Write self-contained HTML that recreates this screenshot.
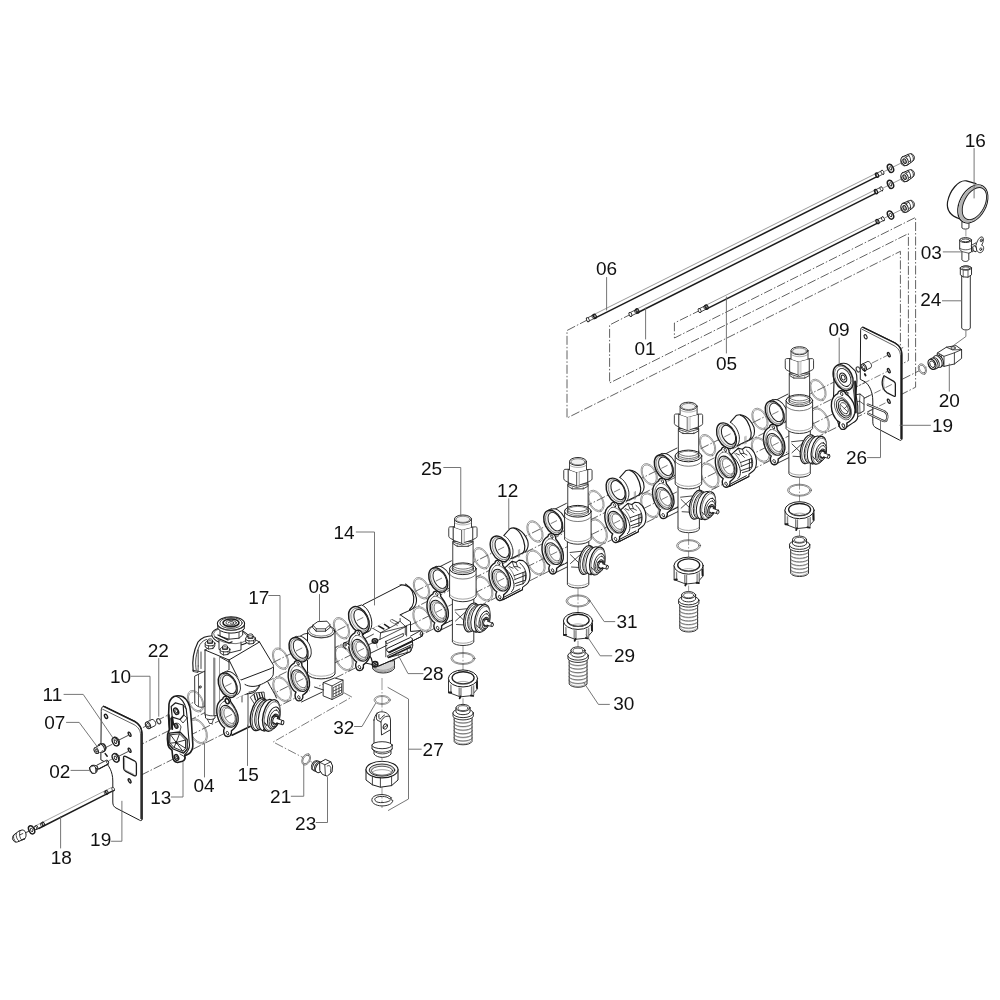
<!DOCTYPE html>
<html><head><meta charset="utf-8"><title>Exploded diagram</title>
<style>html,body{margin:0;padding:0;background:#fff}svg{display:block}text{font-family:"Liberation Sans",sans-serif;fill:#111}</style>
</head><body>
<svg width="1000" height="1000" viewBox="0 0 1000 1000" stroke-linecap="round" stroke-linejoin="round">
<rect width="1000" height="1000" fill="#fff"/>
<path d="M 104 747.05 L 905 346.55" stroke="#3a3a3a" stroke-width="0.8" fill="none" stroke-linecap="butt" stroke-dasharray="9 2 1.5 2"/>
<path d="M 176 742.35 L 946 357.35" stroke="#3a3a3a" stroke-width="0.8" fill="none" stroke-linecap="butt" stroke-dasharray="9 2 1.5 2"/>
<path d="M 97 766.55 L 889 370.55" stroke="#3a3a3a" stroke-width="0.8" fill="none" stroke-linecap="butt" stroke-dasharray="9 2 1.5 2"/>
<path d="M 24 833.65 L 889 401.15" stroke="#3a3a3a" stroke-width="0.8" fill="none" stroke-linecap="butt" stroke-dasharray="9 2 1.5 2"/>
<path d="M 588 319.6 L 567 330.5 L 567 418 L 900.4 251.3 L 900.4 349.5" stroke="#3a3a3a" stroke-width="0.8" fill="none" stroke-linecap="butt" stroke-dasharray="9 2 1.5 2"/>
<path d="M 632 313.6 L 609.6 325 L 609.6 383 L 908.4 233.6 L 908.4 360.6 L 901.8 364" stroke="#3a3a3a" stroke-width="0.8" fill="none" stroke-linecap="butt" stroke-dasharray="9 2 1.5 2"/>
<path d="M 701 309.8 L 674.4 323 L 674.4 338 L 915.6 217.4 L 915.6 387.2 L 901.8 394.2" stroke="#3a3a3a" stroke-width="0.8" fill="none" stroke-linecap="butt" stroke-dasharray="9 2 1.5 2"/>
<path d="M 587.8 317.6 L 882.5 170.25 L 882.5 174.45 L 587.8 321.8 Z" stroke="none" stroke-width="0" fill="#fff" />
<line x1="594.8" y1="314.1" x2="877" y2="173" stroke="#707070" stroke-width="0.7" />
<line x1="595.4" y1="317.8" x2="877" y2="176.7" stroke="#1c1c1c" stroke-width="1.5" />
<path d="M 587.8 317.75 L 594.8 314.25 M 587.8 321.65 L 594.8 318.15" stroke="#1c1c1c" stroke-width="0.8" fill="none" />
<ellipse cx="594.8" cy="316.2" rx="2.25" ry="1.37" stroke="#1c1c1c" stroke-width="1.2" fill="none" transform="rotate(63.44 594.8 316.2)"/>
<ellipse cx="593.5" cy="316.85" rx="2.2" ry="1.34" stroke="#1c1c1c" stroke-width="0.8" fill="none" transform="rotate(63.44 593.5 316.85)"/>
<ellipse cx="587.8" cy="319.7" rx="2.15" ry="1.31" stroke="#1c1c1c" stroke-width="0.9" fill="#fff" transform="rotate(63.44 587.8 319.7)"/>
<path d="M 877 173.1 L 882.5 170.35 L 882.5 174.35 L 877 177.1 Z" stroke="#1c1c1c" stroke-width="0.8" fill="#fff" />
<ellipse cx="882.5" cy="172.35" rx="2.2" ry="1.34" stroke="#1c1c1c" stroke-width="0.8" fill="#fff" transform="rotate(63.44 882.5 172.35)"/>
<ellipse cx="877" cy="175.1" rx="2.3" ry="1.4" stroke="#1c1c1c" stroke-width="1.2" fill="none" transform="rotate(63.44 877 175.1)"/>
<line x1="884.5" y1="171.35" x2="906.5" y2="160.35" stroke="#555" stroke-width="0.6" />
<ellipse cx="890.5" cy="168.35" rx="4.3" ry="2.67" stroke="#1c1c1c" stroke-width="1.5" fill="#fff" transform="rotate(63.44 890.5 168.35)"/>
<ellipse cx="890.5" cy="168.35" rx="1.8" ry="1.12" stroke="#1c1c1c" stroke-width="0.8" fill="#fff" transform="rotate(63.44 890.5 168.35)"/>
<g transform="translate(907.5 159.85)">
<path d="M -5.2 -3 L 2 -6 C 3.6 -6.6 5 -6 5.6 -5 C 6.8 -3.6 7.2 -2.6 6.8 -1.8 C 6.8 -0.6 6.4 0.2 5.6 1 L 0.4 5 L -2.8 6 C -4.6 5.8 -5.6 5 -6 3.8 C -6.6 2.6 -6.8 1.4 -6.6 0.2 C -6.4 -1.2 -6 -2.2 -5.2 -3 Z" stroke="#1c1c1c" stroke-width="1.0" fill="#fff" />
<ellipse cx="-2.8" cy="1.2" rx="4.7" ry="3.3" stroke="#1c1c1c" stroke-width="0.9" fill="#fff" transform="rotate(63.44 -2.8 1.2)"/>
<ellipse cx="-2.9" cy="1.3" rx="2.4" ry="1.5" stroke="#1c1c1c" stroke-width="1.0" fill="#bbb" transform="rotate(63.44 -2.9 1.3)"/>
<path d="M 0.4 -5.2 C 2.4 -3.8 3.6 -0.6 3.2 2.6 M 3.6 -5.8 C 5.6 -4.2 6.4 -1.4 5.6 0.8 M -1.6 -2.9 L 1.6 -4.3 M 1.3 2.2 L 3.2 0.6" stroke="#1c1c1c" stroke-width="0.8" fill="none" />
</g>
<path d="M 630.4 312.3 L 881.5 186.75 L 881.5 190.95 L 630.4 316.5 Z" stroke="none" stroke-width="0" fill="#fff" />
<line x1="637.4" y1="308.8" x2="876" y2="189.5" stroke="#707070" stroke-width="0.7" />
<line x1="638" y1="312.5" x2="876" y2="193.2" stroke="#1c1c1c" stroke-width="1.5" />
<path d="M 630.4 312.45 L 637.4 308.95 M 630.4 316.35 L 637.4 312.85" stroke="#1c1c1c" stroke-width="0.8" fill="none" />
<ellipse cx="637.4" cy="310.9" rx="2.25" ry="1.37" stroke="#1c1c1c" stroke-width="1.2" fill="none" transform="rotate(63.44 637.4 310.9)"/>
<ellipse cx="636.1" cy="311.55" rx="2.2" ry="1.34" stroke="#1c1c1c" stroke-width="0.8" fill="none" transform="rotate(63.44 636.1 311.55)"/>
<ellipse cx="630.4" cy="314.4" rx="2.15" ry="1.31" stroke="#1c1c1c" stroke-width="0.9" fill="#fff" transform="rotate(63.44 630.4 314.4)"/>
<path d="M 876 189.6 L 881.5 186.85 L 881.5 190.85 L 876 193.6 Z" stroke="#1c1c1c" stroke-width="0.8" fill="#fff" />
<ellipse cx="881.5" cy="188.85" rx="2.2" ry="1.34" stroke="#1c1c1c" stroke-width="0.8" fill="#fff" transform="rotate(63.44 881.5 188.85)"/>
<ellipse cx="876" cy="191.6" rx="2.3" ry="1.4" stroke="#1c1c1c" stroke-width="1.2" fill="none" transform="rotate(63.44 876 191.6)"/>
<line x1="883.5" y1="187.85" x2="905.5" y2="176.85" stroke="#555" stroke-width="0.6" />
<ellipse cx="890.5" cy="184.35" rx="4.3" ry="2.67" stroke="#1c1c1c" stroke-width="1.5" fill="#fff" transform="rotate(63.44 890.5 184.35)"/>
<ellipse cx="890.5" cy="184.35" rx="1.8" ry="1.12" stroke="#1c1c1c" stroke-width="0.8" fill="#fff" transform="rotate(63.44 890.5 184.35)"/>
<g transform="translate(907.5 175.85)">
<path d="M -5.2 -3 L 2 -6 C 3.6 -6.6 5 -6 5.6 -5 C 6.8 -3.6 7.2 -2.6 6.8 -1.8 C 6.8 -0.6 6.4 0.2 5.6 1 L 0.4 5 L -2.8 6 C -4.6 5.8 -5.6 5 -6 3.8 C -6.6 2.6 -6.8 1.4 -6.6 0.2 C -6.4 -1.2 -6 -2.2 -5.2 -3 Z" stroke="#1c1c1c" stroke-width="1.0" fill="#fff" />
<ellipse cx="-2.8" cy="1.2" rx="4.7" ry="3.3" stroke="#1c1c1c" stroke-width="0.9" fill="#fff" transform="rotate(63.44 -2.8 1.2)"/>
<ellipse cx="-2.9" cy="1.3" rx="2.4" ry="1.5" stroke="#1c1c1c" stroke-width="1.0" fill="#bbb" transform="rotate(63.44 -2.9 1.3)"/>
<path d="M 0.4 -5.2 C 2.4 -3.8 3.6 -0.6 3.2 2.6 M 3.6 -5.8 C 5.6 -4.2 6.4 -1.4 5.6 0.8 M -1.6 -2.9 L 1.6 -4.3 M 1.3 2.2 L 3.2 0.6" stroke="#1c1c1c" stroke-width="0.8" fill="none" />
</g>
<path d="M 699.6 308.4 L 883 216.7 L 883 220.9 L 699.6 312.6 Z" stroke="none" stroke-width="0" fill="#fff" />
<line x1="706.6" y1="304.9" x2="877.5" y2="219.45" stroke="#707070" stroke-width="0.7" />
<line x1="707.2" y1="308.6" x2="877.5" y2="223.15" stroke="#1c1c1c" stroke-width="1.5" />
<path d="M 699.6 308.55 L 706.6 305.05 M 699.6 312.45 L 706.6 308.95" stroke="#1c1c1c" stroke-width="0.8" fill="none" />
<ellipse cx="706.6" cy="307" rx="2.25" ry="1.37" stroke="#1c1c1c" stroke-width="1.2" fill="none" transform="rotate(63.44 706.6 307)"/>
<ellipse cx="705.3" cy="307.65" rx="2.2" ry="1.34" stroke="#1c1c1c" stroke-width="0.8" fill="none" transform="rotate(63.44 705.3 307.65)"/>
<ellipse cx="699.6" cy="310.5" rx="2.15" ry="1.31" stroke="#1c1c1c" stroke-width="0.9" fill="#fff" transform="rotate(63.44 699.6 310.5)"/>
<path d="M 877.5 219.55 L 883 216.8 L 883 220.8 L 877.5 223.55 Z" stroke="#1c1c1c" stroke-width="0.8" fill="#fff" />
<ellipse cx="883" cy="218.8" rx="2.2" ry="1.34" stroke="#1c1c1c" stroke-width="0.8" fill="#fff" transform="rotate(63.44 883 218.8)"/>
<ellipse cx="877.5" cy="221.55" rx="2.3" ry="1.4" stroke="#1c1c1c" stroke-width="1.2" fill="none" transform="rotate(63.44 877.5 221.55)"/>
<line x1="885" y1="217.8" x2="907" y2="206.8" stroke="#555" stroke-width="0.6" />
<ellipse cx="890.5" cy="215.05" rx="4.3" ry="2.67" stroke="#1c1c1c" stroke-width="1.5" fill="#fff" transform="rotate(63.44 890.5 215.05)"/>
<ellipse cx="890.5" cy="215.05" rx="1.8" ry="1.12" stroke="#1c1c1c" stroke-width="0.8" fill="#fff" transform="rotate(63.44 890.5 215.05)"/>
<g transform="translate(907.5 206.55)">
<path d="M -5.2 -3 L 2 -6 C 3.6 -6.6 5 -6 5.6 -5 C 6.8 -3.6 7.2 -2.6 6.8 -1.8 C 6.8 -0.6 6.4 0.2 5.6 1 L 0.4 5 L -2.8 6 C -4.6 5.8 -5.6 5 -6 3.8 C -6.6 2.6 -6.8 1.4 -6.6 0.2 C -6.4 -1.2 -6 -2.2 -5.2 -3 Z" stroke="#1c1c1c" stroke-width="1.0" fill="#fff" />
<ellipse cx="-2.8" cy="1.2" rx="4.7" ry="3.3" stroke="#1c1c1c" stroke-width="0.9" fill="#fff" transform="rotate(63.44 -2.8 1.2)"/>
<ellipse cx="-2.9" cy="1.3" rx="2.4" ry="1.5" stroke="#1c1c1c" stroke-width="1.0" fill="#bbb" transform="rotate(63.44 -2.9 1.3)"/>
<path d="M 0.4 -5.2 C 2.4 -3.8 3.6 -0.6 3.2 2.6 M 3.6 -5.8 C 5.6 -4.2 6.4 -1.4 5.6 0.8 M -1.6 -2.9 L 1.6 -4.3 M 1.3 2.2 L 3.2 0.6" stroke="#1c1c1c" stroke-width="0.8" fill="none" />
</g>
<path d="M 860.6 330.5 C 860.5 327.6 862 326.6 864 327.6 L 894.6 342.6 C 899.6 345.4 901.8 349.4 901.9 354.4 L 901.9 438.6 C 901.9 440.2 900.8 440.8 899.4 440 L 876 427.8 C 873.6 426.4 872.8 424.8 872.8 421.8 L 872.8 401 C 872.8 392 869.4 385 865 381.8 L 860.6 379.5 Z" stroke="#1c1c1c" stroke-width="1.0" fill="#fff" />
<path d="M 862 329.2 L 894 345.6 C 898.4 348.2 900.4 351.4 900.5 356 L 900.5 438.6" stroke="#1c1c1c" stroke-width="0.7" fill="none" />
<path d="M 863 327.3 L 894.8 342.9 C 899.6 345.6 901.7 349.4 901.7 354.4 L 901.7 438.8" stroke="#1c1c1c" stroke-width="1.5" fill="none" />
<ellipse cx="865.6" cy="336.8" rx="2.2" ry="1.36" stroke="#1c1c1c" stroke-width="1.1" fill="none" transform="rotate(63.44 865.6 336.8)"/>
<ellipse cx="888.8" cy="354.65" rx="2.3" ry="1.03" stroke="#1c1c1c" stroke-width="1.3" fill="none" transform="rotate(63.44 888.8 354.65)"/>
<ellipse cx="888.8" cy="370.65" rx="2.3" ry="1.03" stroke="#1c1c1c" stroke-width="1.3" fill="none" transform="rotate(63.44 888.8 370.65)"/>
<ellipse cx="888.8" cy="401.25" rx="2.3" ry="1.03" stroke="#1c1c1c" stroke-width="1.3" fill="none" transform="rotate(63.44 888.8 401.25)"/>
<path d="M 884 375.76 C 882 379.6 881.76 384.4 883.2 388 C 884 390 885.2 391.6 886.8 392.56 L 894 396.24 C 895.04 396.72 895.36 396.24 895.36 395.2 L 895.36 384 C 895.36 382.64 894.8 382 893.76 381.36 Z" stroke="#1c1c1c" stroke-width="1.3" fill="none" />
<path d="M 884.64 376.4 C 883.2 380.4 883.2 385.2 884.48 388.4" stroke="#6a6a6a" stroke-width="0.6" fill="none" />
<path d="M 872 363.05 L 888 355.05" stroke="#444" stroke-width="0.7" fill="none" stroke-linecap="butt" stroke-dasharray="7 2 1.5 2"/>
<path d="M 852 389.05 L 888 371.05" stroke="#444" stroke-width="0.7" fill="none" stroke-linecap="butt" stroke-dasharray="7 2 1.5 2"/>
<path d="M 868 411.65 L 888 401.65" stroke="#444" stroke-width="0.7" fill="none" stroke-linecap="butt" stroke-dasharray="7 2 1.5 2"/>
<path d="M 852 404.35 L 893 383.85" stroke="#444" stroke-width="0.7" fill="none" stroke-linecap="butt" stroke-dasharray="7 2 1.5 2"/>
<path d="M 867.76 404.64 L 884.64 411.44 C 887.6 413.2 888 418 886.4 420.4 C 885.2 421.6 883.6 421.2 882.4 420.56 L 868.24 413.68" stroke="#1c1c1c" stroke-width="2.2" fill="none" />
<path d="M 867.76 404.64 L 884.64 411.44 C 887.6 413.2 888 418 886.4 420.4 C 885.2 421.6 883.6 421.2 882.4 420.56 L 868.24 413.68" stroke="#fff" stroke-width="0.9" fill="none" />
<path d="M 862.24 364.17 L 867.84 361.37 C 870.6 361.77 872.56 365.43 870.96 367.63 L 865.36 370.43 Z" stroke="#1c1c1c" stroke-width="0.9" fill="#fff" />
<ellipse cx="863.8" cy="367.3" rx="3.5" ry="2.31" stroke="#1c1c1c" stroke-width="1.0" fill="#fff" transform="rotate(63.44 863.8 367.3)"/>
<ellipse cx="863.8" cy="367.3" rx="1.93" ry="1.27" stroke="#1c1c1c" stroke-width="0.8" fill="#fff" transform="rotate(63.44 863.8 367.3)"/>
<path d="M 864.16 370 L 864.8 370.96 M 864.8 374 L 865.6 375.44" stroke="#1c1c1c" stroke-width="1.8" fill="none" />
<ellipse cx="858.2" cy="369.4" rx="2.7" ry="1.78" stroke="#444" stroke-width="1.2" fill="#fff" transform="rotate(63.44 858.2 369.4)"/>
<ellipse cx="922.4" cy="369.1" rx="5.6" ry="3.7" stroke="#444" stroke-width="0.6" fill="#fff" transform="rotate(63.44 922.4 369.1)"/>
<ellipse cx="922.4" cy="369.1" rx="4.2" ry="2.6" stroke="#444" stroke-width="0.6" fill="#fff" transform="rotate(63.44 922.4 369.1)"/>
<path d="M 937.6 352.8 L 946.4 347.2 L 956 345.6 L 961.6 349.6 L 961.6 358.4 L 954.4 364 L 944 366.4 L 937.6 362.4 Z" stroke="#1c1c1c" stroke-width="0.9" fill="#fff" />
<path d="M 937.6 352.8 L 944 356.32 L 944 366.4 M 944 356.32 L 954.4 352.8 L 961.6 349.6 M 954.4 352.8 L 954.4 364 M 946.4 347.2 L 952.48 349.92 L 961.6 349.6" stroke="#1c1c1c" stroke-width="0.8" fill="none" />
<ellipse cx="953.12" cy="348" rx="2.24" ry="1.28" stroke="#1c1c1c" stroke-width="0.8" fill="none"/>
<path d="M 939.68 354.08 L 939.68 363.68 M 941.6 355.2 L 941.6 364.96" stroke="#1c1c1c" stroke-width="0.7" fill="none" />
<path d="M 932 358.4 L 938.4 355.2 L 941.6 367.2 L 935.2 370.4 Z" stroke="none" stroke-width="0.001" fill="#fff" />
<ellipse cx="939.2" cy="360.8" rx="6.08" ry="3.77" stroke="#1c1c1c" stroke-width="1.0" fill="#fff" transform="rotate(63.44 939.2 360.8)"/>
<ellipse cx="937.6" cy="361.6" rx="6.4" ry="3.97" stroke="#1c1c1c" stroke-width="0.9" fill="#fff" transform="rotate(63.44 937.6 361.6)"/>
<ellipse cx="935.52" cy="362.72" rx="5.44" ry="3.37" stroke="#1c1c1c" stroke-width="0.9" fill="#fff" transform="rotate(63.44 935.52 362.72)"/>
<ellipse cx="933.92" cy="363.52" rx="5.76" ry="3.57" stroke="#1c1c1c" stroke-width="1.0" fill="#fff" transform="rotate(63.44 933.92 363.52)"/>
<ellipse cx="932" cy="364.32" rx="5.4" ry="3.46" stroke="#1c1c1c" stroke-width="1.3" fill="#fff" transform="rotate(63.44 932 364.32)"/>
<ellipse cx="932.3" cy="364.22" rx="3.6" ry="2.23" stroke="#1c1c1c" stroke-width="0.8" fill="#fff" transform="rotate(63.44 932.3 364.22)"/>
<path d="M 965.9 331 L 965.9 336.5 L 952.5 346.2" stroke="#444" stroke-width="0.7" fill="none"/>
<path d="M 961.7 272 L 961.7 328 C 962.5 330.6 969.5 330.6 970.3 328 L 970.3 272 Z" stroke="#1c1c1c" stroke-width="0.9" fill="#fff" />
<path d="M 960.32 267.92 L 960.32 274.8 L 963.2 276.88 L 968 277.2 L 971.52 274.8 L 971.52 267.92 C 970.4 265.2 961.6 265.2 960.32 267.92 Z" stroke="#1c1c1c" stroke-width="0.9" fill="#fff" />
<ellipse cx="965.92" cy="268.08" rx="5.6" ry="2.08" stroke="#1c1c1c" stroke-width="0.9" fill="#fff"/>
<ellipse cx="965.92" cy="268.24" rx="3.84" ry="1.28" stroke="#1c1c1c" stroke-width="0.7" fill="none"/>
<path d="M 963.2 270.48 L 963.2 276.88 M 968 270.48 L 968 277.2" stroke="#1c1c1c" stroke-width="0.7" fill="none" />
<path d="M 959.68 240.4 L 959.68 249.2 L 961.92 251.6 L 961.92 259.92 C 964 262 967.2 262 968.8 259.92 L 968.8 253.2 L 971.52 251.92 L 971.52 240.4 Z" stroke="#1c1c1c" stroke-width="0.9" fill="#fff" />
<ellipse cx="965.6" cy="240.08" rx="5.92" ry="2.4" stroke="#1c1c1c" stroke-width="1.0" fill="#fff"/>
<ellipse cx="965.6" cy="240.4" rx="4.16" ry="1.44" stroke="#1c1c1c" stroke-width="0.8" fill="none"/>
<path d="M 961.92 251.6 L 968.8 253.2 M 960 248.4 C 962.4 250.32 968.8 250.32 971.2 248.4" stroke="#1c1c1c" stroke-width="0.7" fill="none" />
<path d="M 971.52 245.2 L 976 242.8 L 977.6 247.6 L 972.8 251.6 Z" stroke="#1c1c1c" stroke-width="0.8" fill="#fff" />
<ellipse cx="974.88" cy="248.72" rx="1.92" ry="3.2" stroke="#1c1c1c" stroke-width="0.9" fill="#fff" transform="rotate(-20 974.88 248.72)"/>
<path d="M 976 245.2 C 977.28 240.4 979.2 236.88 982.08 236.88 C 984 237.52 983.68 242 981.6 245.2 C 984 245.52 984.32 249.2 982.4 251.6 C 980.48 253.52 977.92 252.88 976.8 250.32 Z" stroke="#1c1c1c" stroke-width="0.9" fill="#fff" />
<ellipse cx="981.28" cy="240.4" rx="0.96" ry="1.44" stroke="#1c1c1c" stroke-width="0.8" fill="none" transform="rotate(20 981.28 240.4)"/>
<ellipse cx="980.8" cy="249.2" rx="0.96" ry="1.44" stroke="#1c1c1c" stroke-width="0.8" fill="none" transform="rotate(20 980.8 249.2)"/>
<path d="M 961.92 222 L 961.92 227.92 C 963.52 229.52 967.2 229.52 968.96 227.92 L 968.96 222 Z" stroke="#1c1c1c" stroke-width="0.9" fill="#fff" />
<line x1="965.9" y1="230" x2="965.9" y2="236" stroke="#555" stroke-width="0.6" />
<path d="M 959.2 183.6 C 952 186 946.4 197.2 946.88 206.8 C 947.52 213.2 952 217.2 959.2 219.6 L 972.8 223.6 L 977.6 184.4 Z" stroke="none" stroke-width="0.001" fill="#fff" />
<path d="M 976 183.6 L 966.4 180.88 C 958.4 179.6 949.6 190.8 947.52 202 C 946.4 210 950.4 215.6 959.2 218.8" stroke="#1c1c1c" stroke-width="1.2" fill="none" />
<ellipse cx="972.8" cy="203.92" rx="13.12" ry="20.48" stroke="#1c1c1c" stroke-width="1.2" fill="#fff" transform="rotate(28 972.8 203.92)"/>
<ellipse cx="972.96" cy="203.92" rx="12.64" ry="20" stroke="none" stroke-width="0.001" fill="#b4b4b4" transform="rotate(28 972.96 203.92)"/>
<ellipse cx="974.4" cy="203.6" rx="10.24" ry="17.28" stroke="#1c1c1c" stroke-width="0.9" fill="#fff" transform="rotate(28 974.4 203.6)"/>
<path d="M 855.2 394.8 L 860 394 L 864 397.2 L 864 410.8 L 860 413.2 L 855.2 413.2 Z" stroke="#1c1c1c" stroke-width="0.9" fill="#fff" />
<path d="M 860 394 L 859.6 401.2 L 864 404.4 M 859.6 401.2 L 855.2 402 M 859.6 401.2 L 860 413.2" stroke="#1c1c1c" stroke-width="0.7" fill="none" />
<path d="M 838.56 364.4 C 841.6 362.8 846.4 362.8 848.8 364.8 L 855.2 370.96 C 856.96 374 857.28 377.2 856.96 380.4 L 856 394.8 L 857.76 406 L 857.76 416.4 C 857.6 419.6 856 421.2 853.6 422.4 L 846.8 426.96 L 844 429.36 L 838.8 425.2 L 832.8 406 L 833.6 394.8 L 834 382 L 833.2 374 C 833.6 369.2 835.6 366 838.56 364.4 Z" stroke="#1c1c1c" stroke-width="1.1" fill="#fff" />
<path d="M 855.04 381.36 L 855.84 412.4" stroke="#1c1c1c" stroke-width="1.9" fill="none" />
<path d="M 852.4 382 L 854 394.8 L 855.2 406 M 846.4 391.6 L 853.6 406 M 844 394.8 L 846.4 391.6 L 848.8 393.2" stroke="#1c1c1c" stroke-width="0.8" fill="none" />
<ellipse cx="843.2" cy="377.6" rx="13.6" ry="8.98" stroke="#1c1c1c" stroke-width="1.5" fill="#fff" transform="rotate(63.44 843.2 377.6)"/>
<ellipse cx="843.5" cy="377.6" rx="12.2" ry="7.93" stroke="#555" stroke-width="0.6" fill="none" transform="rotate(63.44 843.5 377.6)"/>
<ellipse cx="844" cy="377.4" rx="9.6" ry="6.14" stroke="#1c1c1c" stroke-width="0.9" fill="#fff" transform="rotate(63.44 844 377.4)"/>
<ellipse cx="843.2" cy="377.6" rx="4.8" ry="3.17" stroke="#1c1c1c" stroke-width="1.2" fill="#fff" transform="rotate(63.44 843.2 377.6)"/>
<ellipse cx="843.2" cy="377.6" rx="2.6" ry="1.72" stroke="#1c1c1c" stroke-width="0.9" fill="#fff" transform="rotate(63.44 843.2 377.6)"/>
<ellipse cx="842" cy="392.4" rx="2" ry="1.32" stroke="#1c1c1c" stroke-width="0.9" fill="#fff" transform="rotate(63.44 842 392.4)"/>
<path d="M 841.6 390.8 C 839.6 390.4 838 391.6 837.76 393.6 C 835.2 394.8 832.4 398 831.6 402 C 830.8 407.6 832 413.2 835.2 418 C 836.4 420 838 421.6 839.84 422.4 C 838.8 424.4 839.2 427.2 840.96 428.8 C 842.8 430 845.2 429.36 846.4 427.44 C 847.2 426 847.2 424.4 846.8 423.2 C 850 421.6 853.6 418 854.8 413.2 C 855.6 408.4 854 403.2 851.2 399.2 C 849.6 396.8 847.6 394.8 845.76 393.84 C 845.44 392 843.6 390.96 841.6 390.8 Z" stroke="#1c1c1c" stroke-width="1.4" fill="#fff" />
<ellipse cx="843" cy="408.4" rx="12.4" ry="7.44" stroke="#444" stroke-width="0.7" fill="none" transform="rotate(63.44 843 408.4)"/>
<ellipse cx="843.5" cy="408.4" rx="10.4" ry="6.24" stroke="#1c1c1c" stroke-width="0.9" fill="#e6e6e6" transform="rotate(63.44 843.5 408.4)"/>
<ellipse cx="844.2" cy="408.2" rx="8.4" ry="5.04" stroke="#1c1c1c" stroke-width="0.9" fill="#fff" transform="rotate(63.44 844.2 408.2)"/>
<ellipse cx="844.2" cy="408.2" rx="6" ry="3.6" stroke="#1c1c1c" stroke-width="0.7" fill="#fff" transform="rotate(63.44 844.2 408.2)"/>
<path d="M 840.96 405.2 L 847.6 411.6 M 844 408.8 L 847.2 406" stroke="#1c1c1c" stroke-width="0.7" fill="none" />
<ellipse cx="841.6" cy="393.84" rx="1.8" ry="1.12" stroke="#1c1c1c" stroke-width="0.8" fill="none" transform="rotate(63.44 841.6 393.84)"/>
<ellipse cx="843.36" cy="425.6" rx="2" ry="1.24" stroke="#1c1c1c" stroke-width="0.9" fill="none" transform="rotate(63.44 843.36 425.6)"/>
<ellipse cx="818" cy="390.05" rx="11.6" ry="7.13" stroke="#5a5a5a" stroke-width="0.55" fill="none" transform="rotate(63.44 818 390.05)"/>
<ellipse cx="818" cy="390.05" rx="10.2" ry="6.12" stroke="#5a5a5a" stroke-width="0.55" fill="none" transform="rotate(63.44 818 390.05)"/>
<ellipse cx="820" cy="420.35" rx="13.6" ry="8.23" stroke="#5a5a5a" stroke-width="0.55" fill="none" transform="rotate(63.44 820 420.35)"/>
<ellipse cx="820" cy="420.35" rx="12.2" ry="7.2" stroke="#5a5a5a" stroke-width="0.55" fill="none" transform="rotate(63.44 820 420.35)"/>
<path d="M 799.5 477.6 L 799.5 538.6" stroke="#555" stroke-width="0.6" fill="none" stroke-linecap="butt" stroke-dasharray="12 2 1.5 2"/>
<path d="M 790.7 547.8 L 790.7 573.3 C 792.7 577.6 806.3 577.6 808.5 573.3 L 808.5 547.8 Z" stroke="#1c1c1c" stroke-width="0.9" fill="#fff" />
<path d="M 790.3 551.8 C 792.7 555.8 806.3 555.8 808.9 551.8" stroke="#333" stroke-width="0.7" fill="none" />
<path d="M 791.1 552.7 C 793.3 556.2 805.7 556.2 808.1 552.7" stroke="#888" stroke-width="0.5" fill="none" />
<path d="M 790.3 555.4 C 792.7 559.4 806.3 559.4 808.9 555.4" stroke="#333" stroke-width="0.7" fill="none" />
<path d="M 791.1 556.3 C 793.3 559.8 805.7 559.8 808.1 556.3" stroke="#888" stroke-width="0.5" fill="none" />
<path d="M 790.3 559 C 792.7 563 806.3 563 808.9 559" stroke="#333" stroke-width="0.7" fill="none" />
<path d="M 791.1 559.9 C 793.3 563.4 805.7 563.4 808.1 559.9" stroke="#888" stroke-width="0.5" fill="none" />
<path d="M 790.3 562.6 C 792.7 566.6 806.3 566.6 808.9 562.6" stroke="#333" stroke-width="0.7" fill="none" />
<path d="M 791.1 563.5 C 793.3 567 805.7 567 808.1 563.5" stroke="#888" stroke-width="0.5" fill="none" />
<path d="M 790.3 566.2 C 792.7 570.2 806.3 570.2 808.9 566.2" stroke="#333" stroke-width="0.7" fill="none" />
<path d="M 791.1 567.1 C 793.3 570.6 805.7 570.6 808.1 567.1" stroke="#888" stroke-width="0.5" fill="none" />
<path d="M 790.3 569.8 C 792.7 573.8 806.3 573.8 808.9 569.8" stroke="#333" stroke-width="0.7" fill="none" />
<path d="M 791.1 570.7 C 793.3 574.2 805.7 574.2 808.1 570.7" stroke="#888" stroke-width="0.5" fill="none" />
<path d="M 791.7 573 C 794.7 576.6 804.3 576.6 807.5 573" stroke="#666" stroke-width="0.6" fill="none" />
<path d="M 789.5 544.8 L 789.5 548.3 C 792.5 552.8 806.5 552.8 809.8 548.3 L 809.8 544.8 Z" stroke="#1c1c1c" stroke-width="0.9" fill="#fff" />
<ellipse cx="799.6" cy="544.8" rx="10.2" ry="4.59" stroke="#1c1c1c" stroke-width="0.9" fill="#fff"/>
<path d="M 792.5 539.6 L 792.5 543.8 C 794.5 547.3 804.5 547.3 806.5 543.8 L 806.5 539.6 Z" stroke="#1c1c1c" stroke-width="0.9" fill="#fff" />
<ellipse cx="799.5" cy="539.6" rx="7" ry="3.5" stroke="#1c1c1c" stroke-width="0.9" fill="#fff"/>
<ellipse cx="799.5" cy="539.9" rx="5" ry="2.5" stroke="#1c1c1c" stroke-width="0.7" fill="#fff"/>
<path d="M 785.02 510.2 L 785.02 524.2 L 796.7 528.6 L 807.9 527.4 L 813.98 520.6 L 813.98 510.2 Z" stroke="#1c1c1c" stroke-width="0.9" fill="#fff" />
<path d="M 787.3 516.6 L 788.5 517.2 L 788.5 524.8 L 787.3 524.28 Z" stroke="none" stroke-width="0.001" fill="#cfcfcf" />
<path d="M 795.58 519.6 L 797.58 519.8 L 797.58 528.4 L 795.58 528.2 Z" stroke="none" stroke-width="0.001" fill="#cfcfcf" />
<path d="M 807.9 518.4 L 810.3 517.4 L 810.3 526.4 L 807.9 527.4 Z" stroke="none" stroke-width="0.001" fill="#cfcfcf" />
<path d="M 787.3 516.6 L 787.3 524.28 M 795.58 519.6 L 795.58 528.2 M 797.58 519.8 L 797.58 528.4 M 807.9 518.4 L 807.9 527.4 M 810.3 517.4 L 810.3 526.4" stroke="#444" stroke-width="0.7" fill="none" />
<path d="M 813.18 513.4 L 813.42 519.8" stroke="#1c1c1c" stroke-width="1.8" fill="none" />
<path d="M 785.5 524.2 L 787.7 524.12 M 796.9 528.2 L 796.22 530 M 807.5 527.32 L 809.7 527.6" stroke="#1c1c1c" stroke-width="1.9" fill="none" />
<ellipse cx="799.5" cy="510.2" rx="14.6" ry="8.5" stroke="#1c1c1c" stroke-width="1.0" fill="#fff"/>
<ellipse cx="799.6" cy="509.6" rx="11" ry="6.1" stroke="#1c1c1c" stroke-width="1.3" fill="#fff"/>
<path d="M 793.1 514.6 C 795.9 512.6 803.1 512.6 805.9 514.6" stroke="#777" stroke-width="0.6" fill="none" />
<path d="M 791.9 513.8 C 795.1 516.6 803.9 516.6 807.5 513.8" stroke="#666" stroke-width="0.6" fill="none" />
<ellipse cx="799.5" cy="490.2" rx="12" ry="6" stroke="#3a3a3a" stroke-width="0.6" fill="none"/>
<ellipse cx="799.5" cy="490.2" rx="10.5" ry="5.04" stroke="#3a3a3a" stroke-width="0.6" fill="none"/>
<path d="M 768.89 401.57 L 787.89 392.07 L 799.51 415.33 L 780.51 424.83 Z" stroke="none" stroke-width="0.001" fill="#fff" />
<path d="M 769.49 401.37 L 773.29 399.47 L 774.29 400.97 L 787.89 394.12" stroke="#1c1c1c" stroke-width="0.9" fill="none" />
<ellipse cx="778.3" cy="411.4" rx="12.6" ry="8.13" stroke="#1c1c1c" stroke-width="0.9" fill="#fff" transform="rotate(63.44 778.3 411.4)"/>
<path d="M 768.89 401.57 L 772.49 399.77 L 784.11 423.03 L 780.51 424.83 Z" stroke="none" stroke-width="0.001" fill="#fff" />
<line x1="768.89" y1="401.57" x2="772.49" y2="399.77" stroke="#1c1c1c" stroke-width="0.9" />
<ellipse cx="774.7" cy="413.2" rx="13" ry="8.38" stroke="#1c1c1c" stroke-width="1.5" fill="#fff" transform="rotate(63.44 774.7 413.2)"/>
<ellipse cx="775.2" cy="413" rx="11.6" ry="7.31" stroke="#555" stroke-width="0.6" fill="#e9e9e9" transform="rotate(63.44 775.2 413)"/>
<ellipse cx="776.4" cy="412.4" rx="9.9" ry="5.94" stroke="#1c1c1c" stroke-width="0.9" fill="#fff" transform="rotate(63.44 776.4 412.4)"/>
<path d="M 772.2 414.45 L 780.2 410.45" stroke="#444" stroke-width="0.7" fill="none" stroke-linecap="butt" stroke-dasharray="7 2 1.5 2"/>
<path d="M 789.25 374 L 789.25 424.5 L 809.6 424.5 L 809.6 374 Z" stroke="none" stroke-width="0.001" fill="#fff" />
<path d="M 789.25 374.5 L 789.25 424.5 M 809.6 374.5 L 809.6 424.5" stroke="#2a2a2a" stroke-width="0.9" fill="none" />
<path d="M 789.35 417.5 C 793.75 420.75 805.25 420.75 809.5 417.5 M 789.35 419.5 C 793.75 422.75 805.25 422.75 809.5 419.5" stroke="#555" stroke-width="0.7" fill="none" />
<path d="M 789.25 373.5 L 789.75 375.6 L 793.75 378.1 L 804.75 378.1 L 809.25 375.6 L 809.6 373.5 Z" stroke="#2a2a2a" stroke-width="0.9" fill="#fff" />
<path d="M 793.75 376.75 L 793.75 378.1 M 804.75 376.75 L 804.75 378.1" stroke="#2a2a2a" stroke-width="0.7" fill="none" />
<path d="M 790 358.5 L 786.5 358.6 C 785.5 358.75 785.25 359.25 785.25 360.25 L 785.25 368 C 785.35 369 786 369.5 786.75 370 L 790 371.75 Z" stroke="#2a2a2a" stroke-width="0.9" fill="#fff" />
<path d="M 809.25 358.75 L 812.25 358.6 C 813.25 358.75 813.55 359.25 813.55 360.25 L 813.55 368.25 C 813.45 369.1 813 369.5 812.25 369.9 L 809.25 371.5 Z" stroke="#2a2a2a" stroke-width="0.9" fill="#fff" />
<path d="M 790 358.75 L 798.25 361.6 L 809.25 358.75 L 809.25 371.6 L 798.25 375.1 L 790 372.1 Z" stroke="#2a2a2a" stroke-width="0.9" fill="#fff" />
<path d="M 798.25 361.6 L 798.25 375.1" stroke="#2a2a2a" stroke-width="1.1" fill="none" />
<path d="M 800.75 361.1 L 800.75 374.4" stroke="#777" stroke-width="0.7" fill="none" />
<path d="M 798.35 361.75 L 800.65 361.15 L 800.65 374.4 L 798.35 375 Z" stroke="none" stroke-width="0.001" fill="#e3e3e3" />
<path d="M 790 372.1 L 789.75 374 L 798.25 376.75 L 809.5 373.75 L 809.25 371.6" stroke="#2a2a2a" stroke-width="0.8" fill="none" />
<path d="M 791 350.75 L 791 359.1 L 798.25 361.6 L 808 359.1 L 808 350.75 Z" stroke="none" stroke-width="0.001" fill="#fff" />
<path d="M 791 351 L 791 358.9 M 808 351 L 808 358.9" stroke="#2a2a2a" stroke-width="0.9" fill="none" />
<path d="M 791.15 354.5 C 794.75 357.5 804.25 357.5 807.85 354.5" stroke="#777" stroke-width="0.6" fill="none" />
<ellipse cx="799.5" cy="350.75" rx="8.5" ry="3.99" stroke="#2a2a2a" stroke-width="1.0" fill="#fff"/>
<ellipse cx="799.5" cy="351.05" rx="7" ry="3.08" stroke="#555" stroke-width="0.7" fill="#f2f2f2"/>
<path d="M 777.54 459.2 L 789.7 453.2 L 789.7 457.2 L 777.86 463.04 Z" stroke="none" stroke-width="0.001" fill="#fff" />
<path d="M 777.86 463.04 L 789.7 457.2 M 780.1 457.6 L 789.7 452.96" stroke="#1c1c1c" stroke-width="0.9" fill="none" />
<path d="M 773.3 424.4 C 771.3 424.16 769.7 425.2 769.54 427.04 C 767.3 428.4 764.9 430.4 764.1 433.6 C 762.9 438.4 763.3 443.2 765.3 448 C 766.9 452 769.3 454.8 771.3 456 C 770.1 458 770.34 461.2 771.46 463.2 C 772.5 464.96 774.9 465.2 776.74 463.84 C 778.1 462.56 778.5 460.8 778.1 459.04 C 780.9 457.2 783.7 454 784.74 449.6 C 785.3 445.2 784.1 440.4 781.7 436.4 C 780.5 434 778.9 432 777.22 429.6 C 777.3 427.2 775.7 424.8 773.3 424.4 Z" stroke="#1c1c1c" stroke-width="1.4" fill="#fff" />
<path d="M 770.5 429.6 C 768.1 430.8 766.1 433.6 765.7 437.6 C 765.3 442.4 766.9 448 770.1 452 C 772.1 454.4 774.5 455.6 777.06 455.2 C 780.1 454.4 782.9 451.2 783.3 447.2 C 783.7 442.4 781.7 436.8 778.1 432.8 C 776.1 430.8 773.3 428.8 770.5 429.6 Z" stroke="#444" stroke-width="0.7" fill="none" />
<ellipse cx="774.9" cy="444.4" rx="11.6" ry="6.96" stroke="#1c1c1c" stroke-width="1.1" fill="#fff" transform="rotate(63.44 774.9 444.4)"/>
<ellipse cx="775.3" cy="444.4" rx="10" ry="6" stroke="#555" stroke-width="0.6" fill="#ededed" transform="rotate(63.44 775.3 444.4)"/>
<ellipse cx="776.3" cy="443.9" rx="8.4" ry="4.87" stroke="#555" stroke-width="0.7" fill="#fff" transform="rotate(63.44 776.3 443.9)"/>
<ellipse cx="773.38" cy="427.36" rx="1.7" ry="1.05" stroke="#1c1c1c" stroke-width="0.8" fill="none" transform="rotate(63.44 773.38 427.36)"/>
<ellipse cx="774.18" cy="461.2" rx="1.8" ry="1.12" stroke="#1c1c1c" stroke-width="0.8" fill="none" transform="rotate(63.44 774.18 461.2)"/>
<path d="M 772.4 445.65 L 779.9 441.9" stroke="#444" stroke-width="0.7" fill="none" stroke-linecap="butt" stroke-dasharray="7 2 1.5 2"/>
<path d="M 788.9 426.6 L 788.9 473.8 C 791.5 478.4 807.5 478.4 810.3 473.8 L 810.3 426.6 Z" stroke="#1c1c1c" stroke-width="0.9" fill="#fff" />
<path d="M 788.9 471.6 C 791.5 476.2 807.5 476.2 810.3 471.6" stroke="#666" stroke-width="0.6" fill="none" />
<path d="M 786.1 400.5 L 786.1 428.6 C 790.1 435.1 808.6 435.1 812.6 428.6 L 812.6 400.5 Z" stroke="#1c1c1c" stroke-width="0.9" fill="#fff" />
<path d="M 786.1 426.1 C 790.1 432.6 808.6 432.6 812.6 426.1" stroke="#666" stroke-width="0.6" fill="none" />
<path d="M 786.1 406 C 790.1 412.5 808.6 412.5 812.6 406" stroke="#444" stroke-width="0.7" fill="none" />
<ellipse cx="799.35" cy="400.5" rx="13.3" ry="5.85" stroke="#1c1c1c" stroke-width="1.0" fill="#fff"/>
<ellipse cx="799.3" cy="400.2" rx="10.8" ry="4.54" stroke="#444" stroke-width="0.7" fill="#fff"/>
<path d="M 789.3 395.5 L 789.3 402.5 M 809.7 395.5 L 809.7 402.5" stroke="#1c1c1c" stroke-width="0.8" fill="none" />
<path d="M 789.5 398 C 794.5 401.9 804.5 401.9 809.5 398 M 789.5 400.2 C 794.5 404.1 804.5 404.1 809.5 400.2" stroke="#333" stroke-width="0.7" fill="none" />
<g transform="translate(808 449.25) scale(1.0) translate(-471.5 -617.5)">
<path d="M 456.5 609.5 L 471.5 607.5 L 471.5 627 L 456.5 625 Z" stroke="none" stroke-width="0.001" fill="#fff" />
<path d="M 455 610 L 466.5 608.75 M 455.5 612.25 L 464.5 621 M 455.5 621 L 466 611.5 M 456.5 624.5 L 465 625" stroke="#1c1c1c" stroke-width="0.8" fill="none" />
<ellipse cx="471.5" cy="617.5" rx="14.8" ry="7.25" stroke="#1c1c1c" stroke-width="1.2" fill="#fff" transform="rotate(-76.3 471.5 617.5)"/>
<ellipse cx="472.6" cy="617.75" rx="14" ry="6.86" stroke="#1c1c1c" stroke-width="0.7" fill="#fff" transform="rotate(-76.3 472.6 617.75)"/>
<ellipse cx="474.9" cy="618" rx="13.4" ry="6.7" stroke="#1c1c1c" stroke-width="0.9" fill="#fff" transform="rotate(-76.3 474.9 618)"/>
<ellipse cx="476" cy="618.15" rx="13.1" ry="6.55" stroke="#555" stroke-width="0.6" fill="#fff" transform="rotate(-76.3 476 618.15)"/>
<ellipse cx="478.5" cy="618.25" rx="14.25" ry="7.12" stroke="#1c1c1c" stroke-width="1.0" fill="#fff" transform="rotate(-76.3 478.5 618.25)"/>
<ellipse cx="482.25" cy="618.5" rx="14.25" ry="7.12" stroke="#1c1c1c" stroke-width="1.2" fill="#fff" transform="rotate(-76.3 482.25 618.5)"/>
<ellipse cx="483.1" cy="619" rx="13.1" ry="6.55" stroke="#444" stroke-width="0.6" fill="#fff" transform="rotate(-76.3 483.1 619)"/>
<ellipse cx="484.5" cy="620.75" rx="10" ry="5.2" stroke="#1c1c1c" stroke-width="0.9" fill="#fff" transform="rotate(-76.3 484.5 620.75)"/>
<ellipse cx="485" cy="621.75" rx="8.25" ry="4.29" stroke="#1c1c1c" stroke-width="0.7" fill="#fff" transform="rotate(-76.3 485 621.75)"/>
<ellipse cx="485.6" cy="623" rx="5.75" ry="3.33" stroke="#1c1c1c" stroke-width="1.0" fill="#d9d9d9" transform="rotate(-76.3 485.6 623)"/>
<ellipse cx="485.9" cy="623.1" rx="4" ry="2.32" stroke="#1c1c1c" stroke-width="0.8" fill="#fff" transform="rotate(-76.3 485.9 623.1)"/>
<path d="M 487 621 L 492.6 623 L 492 626.5 L 486.25 625 Z" stroke="none" stroke-width="0.001" fill="#fff" />
<path d="M 487.5 621.25 L 492.6 623.1 M 487 625.25 L 491.75 626.5" stroke="#1c1c1c" stroke-width="0.9" fill="none" />
<ellipse cx="492.25" cy="624.8" rx="1.9" ry="1.14" stroke="#1c1c1c" stroke-width="0.9" fill="#fff" transform="rotate(-76.3 492.25 624.8)"/>
<path d="M 483 620 C 484.25 618.5 487 618.5 488.25 620 M 484.25 625 C 485 626 486.5 626.25 487.5 625.5" stroke="#1c1c1c" stroke-width="1.3" fill="none" />
<path d="M 475.25 630.6 L 476 632.25 M 476.5 625 L 478.5 627.5" stroke="#1c1c1c" stroke-width="0.9" fill="none" />
</g>
<ellipse cx="760" cy="419.05" rx="11.6" ry="7.13" stroke="#5a5a5a" stroke-width="0.55" fill="none" transform="rotate(63.44 760 419.05)"/>
<ellipse cx="760" cy="419.05" rx="10.2" ry="6.12" stroke="#5a5a5a" stroke-width="0.55" fill="none" transform="rotate(63.44 760 419.05)"/>
<ellipse cx="760.8" cy="449.95" rx="13.6" ry="8.23" stroke="#5a5a5a" stroke-width="0.55" fill="none" transform="rotate(63.44 760.8 449.95)"/>
<ellipse cx="760.8" cy="449.95" rx="12.2" ry="7.2" stroke="#5a5a5a" stroke-width="0.55" fill="none" transform="rotate(63.44 760.8 449.95)"/>
<path d="M 730.9 454.95 L 738.4 448.2 L 742.4 449.2 L 745.4 446.95 L 749.4 447.45 C 753.4 449.95 755.9 454.95 756.4 460.45 C 756.65 465.45 755.4 469.45 752.9 471.2 L 748.9 474.2 L 748.9 476.55 L 729.4 486.55 L 724.4 483.45 L 721.9 458.45 Z" stroke="#1c1c1c" stroke-width="1.1" fill="#fff" />
<path d="M 746.4 450.05 C 750.4 452.95 752.9 458.45 752.65 463.45 C 752.4 466.95 751.15 469.45 749.4 470.7" stroke="#1c1c1c" stroke-width="0.9" fill="none" />
<path d="M 731.4 455.45 C 735.9 458.45 739.4 464.45 740.4 470.95 C 740.65 474.45 739.65 476.95 737.9 478.45" stroke="#1c1c1c" stroke-width="1.0" fill="none" />
<path d="M 734.4 453.45 C 737.9 456.45 740.9 461.95 741.65 466.45" stroke="#555" stroke-width="0.7" fill="none" />
<path d="M 740.5 462.55 L 751.5 458.55 M 741 466.45 L 752 462.05 M 741.4 470.45 L 751.5 467.05 M 742.4 472.65 L 749.4 470.55 M 749.4 459.45 L 749.4 470.45 M 751.5 458.55 L 752 466.45" stroke="#1c1c1c" stroke-width="0.9" fill="none" />
<path d="M 734.4 451.55 L 738.4 448.2 M 738.4 448.2 L 740.4 453.45 L 744.4 457.45 M 742.4 449.2 L 743.9 453.45 L 746.9 454.95 M 740.4 453.45 L 743.9 453.45 M 735.9 453.45 L 739.4 454.95" stroke="#1c1c1c" stroke-width="0.8" fill="none" />
<path d="M 729.4 486.55 L 748.9 476.55 M 730.9 483.7 L 746.4 475.7" stroke="#1c1c1c" stroke-width="1.0" fill="none" />
<path d="M 722.4 423.65 L 730.4 422.05 L 736.4 415.41 C 741.6 412.85 749.6 416.85 754 427.25 C 755.36 432.85 754 437.25 750 439.41 L 736.8 445.81 Z" stroke="none" stroke-width="0.001" fill="#fff" />
<path d="M 730.4 422.21 L 736.16 415.57 C 741.6 412.85 749.6 416.85 754 427.25 C 755.36 432.85 754 437.25 750 439.41 L 737.2 445.65" stroke="#1c1c1c" stroke-width="1.1" fill="none" />
<path d="M 740.4 415.09 C 745.6 416.85 750 424.05 751.2 432.85 C 751.36 436.05 750.8 438.05 749.6 439.41" stroke="#1c1c1c" stroke-width="1.2" fill="none" />
<path d="M 730.4 422.45 C 734.4 424.05 738.4 430.45 739.36 436.85 C 739.68 440.85 738.8 444.05 737.2 445.65" stroke="#1c1c1c" stroke-width="0.9" fill="none" />
<path d="M 744.8 436.85 L 744.8 444.05 M 746 436.21 L 746 443.65" stroke="#777" stroke-width="0.6" fill="none" />
<ellipse cx="726.5" cy="435.65" rx="13.6" ry="8.77" stroke="#1c1c1c" stroke-width="1.4" fill="#fff" transform="rotate(63.44 726.5 435.65)"/>
<ellipse cx="727.2" cy="435.45" rx="12" ry="7.56" stroke="#555" stroke-width="0.6" fill="#e9e9e9" transform="rotate(63.44 727.2 435.45)"/>
<ellipse cx="728.5" cy="434.85" rx="10.2" ry="6.12" stroke="#1c1c1c" stroke-width="1.0" fill="#fff" transform="rotate(63.44 728.5 434.85)"/>
<path d="M 724.3 436.9 L 732.3 432.9" stroke="#444" stroke-width="0.7" fill="none" stroke-linecap="butt" stroke-dasharray="7 2 1.5 2"/>
<path d="M 725.2 446.95 C 723.2 446.71 721.6 447.75 721.44 449.59 C 719.2 450.95 716.8 452.95 716 456.15 C 714.8 460.95 715.2 465.75 717.2 470.55 C 718.8 474.55 721.2 477.35 723.2 478.55 C 722 480.55 722.24 483.75 723.36 485.75 C 724.4 487.51 726.8 487.75 728.64 486.39 C 730 485.11 730.4 483.35 730 481.59 C 732.8 479.75 735.6 476.55 736.64 472.15 C 737.2 467.75 736 462.95 733.6 458.95 C 732.4 456.55 730.8 454.55 729.12 452.15 C 729.2 449.75 727.6 447.35 725.2 446.95 Z" stroke="#1c1c1c" stroke-width="1.4" fill="#fff" />
<path d="M 722.4 452.15 C 720 453.35 718 456.15 717.6 460.15 C 717.2 464.95 718.8 470.55 722 474.55 C 724 476.95 726.4 478.15 728.96 477.75 C 732 476.95 734.8 473.75 735.2 469.75 C 735.6 464.95 733.6 459.35 730 455.35 C 728 453.35 725.2 451.35 722.4 452.15 Z" stroke="#444" stroke-width="0.7" fill="none" />
<ellipse cx="726.8" cy="466.95" rx="11.6" ry="6.96" stroke="#1c1c1c" stroke-width="1.1" fill="#fff" transform="rotate(63.44 726.8 466.95)"/>
<ellipse cx="727.2" cy="466.95" rx="10" ry="6" stroke="#555" stroke-width="0.6" fill="#ededed" transform="rotate(63.44 727.2 466.95)"/>
<ellipse cx="728.2" cy="466.45" rx="8.4" ry="4.87" stroke="#555" stroke-width="0.7" fill="#fff" transform="rotate(63.44 728.2 466.45)"/>
<ellipse cx="725.28" cy="449.91" rx="1.7" ry="1.05" stroke="#1c1c1c" stroke-width="0.8" fill="none" transform="rotate(63.44 725.28 449.91)"/>
<ellipse cx="726.08" cy="483.75" rx="1.8" ry="1.12" stroke="#1c1c1c" stroke-width="0.8" fill="none" transform="rotate(63.44 726.08 483.75)"/>
<path d="M 724.3 468.2 L 731.8 464.45" stroke="#444" stroke-width="0.7" fill="none" stroke-linecap="butt" stroke-dasharray="7 2 1.5 2"/>
<ellipse cx="707.6" cy="445.25" rx="11.6" ry="7.13" stroke="#5a5a5a" stroke-width="0.55" fill="none" transform="rotate(63.44 707.6 445.25)"/>
<ellipse cx="707.6" cy="445.25" rx="10.2" ry="6.12" stroke="#5a5a5a" stroke-width="0.55" fill="none" transform="rotate(63.44 707.6 445.25)"/>
<ellipse cx="709.6" cy="475.55" rx="13.6" ry="8.23" stroke="#5a5a5a" stroke-width="0.55" fill="none" transform="rotate(63.44 709.6 475.55)"/>
<ellipse cx="709.6" cy="475.55" rx="12.2" ry="7.2" stroke="#5a5a5a" stroke-width="0.55" fill="none" transform="rotate(63.44 709.6 475.55)"/>
<path d="M 688.6 533.05 L 688.6 594.05" stroke="#555" stroke-width="0.6" fill="none" stroke-linecap="butt" stroke-dasharray="12 2 1.5 2"/>
<path d="M 679.8 603.25 L 679.8 628.75 C 681.8 633.05 695.4 633.05 697.6 628.75 L 697.6 603.25 Z" stroke="#1c1c1c" stroke-width="0.9" fill="#fff" />
<path d="M 679.4 607.25 C 681.8 611.25 695.4 611.25 698 607.25" stroke="#333" stroke-width="0.7" fill="none" />
<path d="M 680.2 608.15 C 682.4 611.65 694.8 611.65 697.2 608.15" stroke="#888" stroke-width="0.5" fill="none" />
<path d="M 679.4 610.85 C 681.8 614.85 695.4 614.85 698 610.85" stroke="#333" stroke-width="0.7" fill="none" />
<path d="M 680.2 611.75 C 682.4 615.25 694.8 615.25 697.2 611.75" stroke="#888" stroke-width="0.5" fill="none" />
<path d="M 679.4 614.45 C 681.8 618.45 695.4 618.45 698 614.45" stroke="#333" stroke-width="0.7" fill="none" />
<path d="M 680.2 615.35 C 682.4 618.85 694.8 618.85 697.2 615.35" stroke="#888" stroke-width="0.5" fill="none" />
<path d="M 679.4 618.05 C 681.8 622.05 695.4 622.05 698 618.05" stroke="#333" stroke-width="0.7" fill="none" />
<path d="M 680.2 618.95 C 682.4 622.45 694.8 622.45 697.2 618.95" stroke="#888" stroke-width="0.5" fill="none" />
<path d="M 679.4 621.65 C 681.8 625.65 695.4 625.65 698 621.65" stroke="#333" stroke-width="0.7" fill="none" />
<path d="M 680.2 622.55 C 682.4 626.05 694.8 626.05 697.2 622.55" stroke="#888" stroke-width="0.5" fill="none" />
<path d="M 679.4 625.25 C 681.8 629.25 695.4 629.25 698 625.25" stroke="#333" stroke-width="0.7" fill="none" />
<path d="M 680.2 626.15 C 682.4 629.65 694.8 629.65 697.2 626.15" stroke="#888" stroke-width="0.5" fill="none" />
<path d="M 680.8 628.45 C 683.8 632.05 693.4 632.05 696.6 628.45" stroke="#666" stroke-width="0.6" fill="none" />
<path d="M 678.6 600.25 L 678.6 603.75 C 681.6 608.25 695.6 608.25 698.9 603.75 L 698.9 600.25 Z" stroke="#1c1c1c" stroke-width="0.9" fill="#fff" />
<ellipse cx="688.7" cy="600.25" rx="10.2" ry="4.59" stroke="#1c1c1c" stroke-width="0.9" fill="#fff"/>
<path d="M 681.6 595.05 L 681.6 599.25 C 683.6 602.75 693.6 602.75 695.6 599.25 L 695.6 595.05 Z" stroke="#1c1c1c" stroke-width="0.9" fill="#fff" />
<ellipse cx="688.6" cy="595.05" rx="7" ry="3.5" stroke="#1c1c1c" stroke-width="0.9" fill="#fff"/>
<ellipse cx="688.6" cy="595.35" rx="5" ry="2.5" stroke="#1c1c1c" stroke-width="0.7" fill="#fff"/>
<path d="M 674.12 565.65 L 674.12 579.65 L 685.8 584.05 L 697 582.85 L 703.08 576.05 L 703.08 565.65 Z" stroke="#1c1c1c" stroke-width="0.9" fill="#fff" />
<path d="M 676.4 572.05 L 677.6 572.65 L 677.6 580.25 L 676.4 579.73 Z" stroke="none" stroke-width="0.001" fill="#cfcfcf" />
<path d="M 684.68 575.05 L 686.68 575.25 L 686.68 583.85 L 684.68 583.65 Z" stroke="none" stroke-width="0.001" fill="#cfcfcf" />
<path d="M 697 573.85 L 699.4 572.85 L 699.4 581.85 L 697 582.85 Z" stroke="none" stroke-width="0.001" fill="#cfcfcf" />
<path d="M 676.4 572.05 L 676.4 579.73 M 684.68 575.05 L 684.68 583.65 M 686.68 575.25 L 686.68 583.85 M 697 573.85 L 697 582.85 M 699.4 572.85 L 699.4 581.85" stroke="#444" stroke-width="0.7" fill="none" />
<path d="M 702.28 568.85 L 702.52 575.25" stroke="#1c1c1c" stroke-width="1.8" fill="none" />
<path d="M 674.6 579.65 L 676.8 579.57 M 686 583.65 L 685.32 585.45 M 696.6 582.77 L 698.8 583.05" stroke="#1c1c1c" stroke-width="1.9" fill="none" />
<ellipse cx="688.6" cy="565.65" rx="14.6" ry="8.5" stroke="#1c1c1c" stroke-width="1.0" fill="#fff"/>
<ellipse cx="688.7" cy="565.05" rx="11" ry="6.1" stroke="#1c1c1c" stroke-width="1.3" fill="#fff"/>
<path d="M 682.2 570.05 C 685 568.05 692.2 568.05 695 570.05" stroke="#777" stroke-width="0.6" fill="none" />
<path d="M 681 569.25 C 684.2 572.05 693 572.05 696.6 569.25" stroke="#666" stroke-width="0.6" fill="none" />
<ellipse cx="688.6" cy="545.65" rx="12" ry="6" stroke="#3a3a3a" stroke-width="0.6" fill="none"/>
<ellipse cx="688.6" cy="545.65" rx="10.5" ry="5.04" stroke="#3a3a3a" stroke-width="0.6" fill="none"/>
<path d="M 657.99 455.52 L 676.99 446.02 L 688.61 469.28 L 669.61 478.78 Z" stroke="none" stroke-width="0.001" fill="#fff" />
<path d="M 658.59 455.32 L 662.39 453.42 L 663.39 454.92 L 676.99 448.07" stroke="#1c1c1c" stroke-width="0.9" fill="none" />
<ellipse cx="667.4" cy="465.35" rx="12.6" ry="8.13" stroke="#1c1c1c" stroke-width="0.9" fill="#fff" transform="rotate(63.44 667.4 465.35)"/>
<path d="M 657.99 455.52 L 661.59 453.72 L 673.21 476.98 L 669.61 478.78 Z" stroke="none" stroke-width="0.001" fill="#fff" />
<line x1="657.99" y1="455.52" x2="661.59" y2="453.72" stroke="#1c1c1c" stroke-width="0.9" />
<ellipse cx="663.8" cy="467.15" rx="13" ry="8.38" stroke="#1c1c1c" stroke-width="1.5" fill="#fff" transform="rotate(63.44 663.8 467.15)"/>
<ellipse cx="664.3" cy="466.95" rx="11.6" ry="7.31" stroke="#555" stroke-width="0.6" fill="#e9e9e9" transform="rotate(63.44 664.3 466.95)"/>
<ellipse cx="665.5" cy="466.35" rx="9.9" ry="5.94" stroke="#1c1c1c" stroke-width="0.9" fill="#fff" transform="rotate(63.44 665.5 466.35)"/>
<path d="M 661.3 468.4 L 669.3 464.4" stroke="#444" stroke-width="0.7" fill="none" stroke-linecap="butt" stroke-dasharray="7 2 1.5 2"/>
<path d="M 678.35 429.45 L 678.35 479.95 L 698.7 479.95 L 698.7 429.45 Z" stroke="none" stroke-width="0.001" fill="#fff" />
<path d="M 678.35 429.95 L 678.35 479.95 M 698.7 429.95 L 698.7 479.95" stroke="#2a2a2a" stroke-width="0.9" fill="none" />
<path d="M 678.45 472.95 C 682.85 476.2 694.35 476.2 698.6 472.95 M 678.45 474.95 C 682.85 478.2 694.35 478.2 698.6 474.95" stroke="#555" stroke-width="0.7" fill="none" />
<path d="M 678.35 428.95 L 678.85 431.05 L 682.85 433.55 L 693.85 433.55 L 698.35 431.05 L 698.7 428.95 Z" stroke="#2a2a2a" stroke-width="0.9" fill="#fff" />
<path d="M 682.85 432.2 L 682.85 433.55 M 693.85 432.2 L 693.85 433.55" stroke="#2a2a2a" stroke-width="0.7" fill="none" />
<path d="M 679.1 413.95 L 675.6 414.05 C 674.6 414.2 674.35 414.7 674.35 415.7 L 674.35 423.45 C 674.45 424.45 675.1 424.95 675.85 425.45 L 679.1 427.2 Z" stroke="#2a2a2a" stroke-width="0.9" fill="#fff" />
<path d="M 698.35 414.2 L 701.35 414.05 C 702.35 414.2 702.65 414.7 702.65 415.7 L 702.65 423.7 C 702.55 424.55 702.1 424.95 701.35 425.35 L 698.35 426.95 Z" stroke="#2a2a2a" stroke-width="0.9" fill="#fff" />
<path d="M 679.1 414.2 L 687.35 417.05 L 698.35 414.2 L 698.35 427.05 L 687.35 430.55 L 679.1 427.55 Z" stroke="#2a2a2a" stroke-width="0.9" fill="#fff" />
<path d="M 687.35 417.05 L 687.35 430.55" stroke="#2a2a2a" stroke-width="1.1" fill="none" />
<path d="M 689.85 416.55 L 689.85 429.85" stroke="#777" stroke-width="0.7" fill="none" />
<path d="M 687.45 417.2 L 689.75 416.6 L 689.75 429.85 L 687.45 430.45 Z" stroke="none" stroke-width="0.001" fill="#e3e3e3" />
<path d="M 679.1 427.55 L 678.85 429.45 L 687.35 432.2 L 698.6 429.2 L 698.35 427.05" stroke="#2a2a2a" stroke-width="0.8" fill="none" />
<path d="M 680.1 406.2 L 680.1 414.55 L 687.35 417.05 L 697.1 414.55 L 697.1 406.2 Z" stroke="none" stroke-width="0.001" fill="#fff" />
<path d="M 680.1 406.45 L 680.1 414.35 M 697.1 406.45 L 697.1 414.35" stroke="#2a2a2a" stroke-width="0.9" fill="none" />
<path d="M 680.25 409.95 C 683.85 412.95 693.35 412.95 696.95 409.95" stroke="#777" stroke-width="0.6" fill="none" />
<ellipse cx="688.6" cy="406.2" rx="8.5" ry="3.99" stroke="#2a2a2a" stroke-width="1.0" fill="#fff"/>
<ellipse cx="688.6" cy="406.5" rx="7" ry="3.08" stroke="#555" stroke-width="0.7" fill="#f2f2f2"/>
<path d="M 666.64 513.15 L 678.8 507.15 L 678.8 511.15 L 666.96 516.99 Z" stroke="none" stroke-width="0.001" fill="#fff" />
<path d="M 666.96 516.99 L 678.8 511.15 M 669.2 511.55 L 678.8 506.91" stroke="#1c1c1c" stroke-width="0.9" fill="none" />
<path d="M 662.4 478.35 C 660.4 478.11 658.8 479.15 658.64 480.99 C 656.4 482.35 654 484.35 653.2 487.55 C 652 492.35 652.4 497.15 654.4 501.95 C 656 505.95 658.4 508.75 660.4 509.95 C 659.2 511.95 659.44 515.15 660.56 517.15 C 661.6 518.91 664 519.15 665.84 517.79 C 667.2 516.51 667.6 514.75 667.2 512.99 C 670 511.15 672.8 507.95 673.84 503.55 C 674.4 499.15 673.2 494.35 670.8 490.35 C 669.6 487.95 668 485.95 666.32 483.55 C 666.4 481.15 664.8 478.75 662.4 478.35 Z" stroke="#1c1c1c" stroke-width="1.4" fill="#fff" />
<path d="M 659.6 483.55 C 657.2 484.75 655.2 487.55 654.8 491.55 C 654.4 496.35 656 501.95 659.2 505.95 C 661.2 508.35 663.6 509.55 666.16 509.15 C 669.2 508.35 672 505.15 672.4 501.15 C 672.8 496.35 670.8 490.75 667.2 486.75 C 665.2 484.75 662.4 482.75 659.6 483.55 Z" stroke="#444" stroke-width="0.7" fill="none" />
<ellipse cx="664" cy="498.35" rx="11.6" ry="6.96" stroke="#1c1c1c" stroke-width="1.1" fill="#fff" transform="rotate(63.44 664 498.35)"/>
<ellipse cx="664.4" cy="498.35" rx="10" ry="6" stroke="#555" stroke-width="0.6" fill="#ededed" transform="rotate(63.44 664.4 498.35)"/>
<ellipse cx="665.4" cy="497.85" rx="8.4" ry="4.87" stroke="#555" stroke-width="0.7" fill="#fff" transform="rotate(63.44 665.4 497.85)"/>
<ellipse cx="662.48" cy="481.31" rx="1.7" ry="1.05" stroke="#1c1c1c" stroke-width="0.8" fill="none" transform="rotate(63.44 662.48 481.31)"/>
<ellipse cx="663.28" cy="515.15" rx="1.8" ry="1.12" stroke="#1c1c1c" stroke-width="0.8" fill="none" transform="rotate(63.44 663.28 515.15)"/>
<path d="M 661.5 499.6 L 669 495.85" stroke="#444" stroke-width="0.7" fill="none" stroke-linecap="butt" stroke-dasharray="7 2 1.5 2"/>
<path d="M 678 482.05 L 678 529.25 C 680.6 533.85 696.6 533.85 699.4 529.25 L 699.4 482.05 Z" stroke="#1c1c1c" stroke-width="0.9" fill="#fff" />
<path d="M 678 527.05 C 680.6 531.65 696.6 531.65 699.4 527.05" stroke="#666" stroke-width="0.6" fill="none" />
<path d="M 675.2 455.95 L 675.2 484.05 C 679.2 490.55 697.7 490.55 701.7 484.05 L 701.7 455.95 Z" stroke="#1c1c1c" stroke-width="0.9" fill="#fff" />
<path d="M 675.2 481.55 C 679.2 488.05 697.7 488.05 701.7 481.55" stroke="#666" stroke-width="0.6" fill="none" />
<path d="M 675.2 461.45 C 679.2 467.95 697.7 467.95 701.7 461.45" stroke="#444" stroke-width="0.7" fill="none" />
<ellipse cx="688.45" cy="455.95" rx="13.3" ry="5.85" stroke="#1c1c1c" stroke-width="1.0" fill="#fff"/>
<ellipse cx="688.4" cy="455.65" rx="10.8" ry="4.54" stroke="#444" stroke-width="0.7" fill="#fff"/>
<path d="M 678.4 450.95 L 678.4 457.95 M 698.8 450.95 L 698.8 457.95" stroke="#1c1c1c" stroke-width="0.8" fill="none" />
<path d="M 678.6 453.45 C 683.6 457.35 693.6 457.35 698.6 453.45 M 678.6 455.65 C 683.6 459.55 693.6 459.55 698.6 455.65" stroke="#333" stroke-width="0.7" fill="none" />
<g transform="translate(697.1 504.7) scale(1.0) translate(-471.5 -617.5)">
<path d="M 456.5 609.5 L 471.5 607.5 L 471.5 627 L 456.5 625 Z" stroke="none" stroke-width="0.001" fill="#fff" />
<path d="M 455 610 L 466.5 608.75 M 455.5 612.25 L 464.5 621 M 455.5 621 L 466 611.5 M 456.5 624.5 L 465 625" stroke="#1c1c1c" stroke-width="0.8" fill="none" />
<ellipse cx="471.5" cy="617.5" rx="14.8" ry="7.25" stroke="#1c1c1c" stroke-width="1.2" fill="#fff" transform="rotate(-76.3 471.5 617.5)"/>
<ellipse cx="472.6" cy="617.75" rx="14" ry="6.86" stroke="#1c1c1c" stroke-width="0.7" fill="#fff" transform="rotate(-76.3 472.6 617.75)"/>
<ellipse cx="474.9" cy="618" rx="13.4" ry="6.7" stroke="#1c1c1c" stroke-width="0.9" fill="#fff" transform="rotate(-76.3 474.9 618)"/>
<ellipse cx="476" cy="618.15" rx="13.1" ry="6.55" stroke="#555" stroke-width="0.6" fill="#fff" transform="rotate(-76.3 476 618.15)"/>
<ellipse cx="478.5" cy="618.25" rx="14.25" ry="7.12" stroke="#1c1c1c" stroke-width="1.0" fill="#fff" transform="rotate(-76.3 478.5 618.25)"/>
<ellipse cx="482.25" cy="618.5" rx="14.25" ry="7.12" stroke="#1c1c1c" stroke-width="1.2" fill="#fff" transform="rotate(-76.3 482.25 618.5)"/>
<ellipse cx="483.1" cy="619" rx="13.1" ry="6.55" stroke="#444" stroke-width="0.6" fill="#fff" transform="rotate(-76.3 483.1 619)"/>
<ellipse cx="484.5" cy="620.75" rx="10" ry="5.2" stroke="#1c1c1c" stroke-width="0.9" fill="#fff" transform="rotate(-76.3 484.5 620.75)"/>
<ellipse cx="485" cy="621.75" rx="8.25" ry="4.29" stroke="#1c1c1c" stroke-width="0.7" fill="#fff" transform="rotate(-76.3 485 621.75)"/>
<ellipse cx="485.6" cy="623" rx="5.75" ry="3.33" stroke="#1c1c1c" stroke-width="1.0" fill="#d9d9d9" transform="rotate(-76.3 485.6 623)"/>
<ellipse cx="485.9" cy="623.1" rx="4" ry="2.32" stroke="#1c1c1c" stroke-width="0.8" fill="#fff" transform="rotate(-76.3 485.9 623.1)"/>
<path d="M 487 621 L 492.6 623 L 492 626.5 L 486.25 625 Z" stroke="none" stroke-width="0.001" fill="#fff" />
<path d="M 487.5 621.25 L 492.6 623.1 M 487 625.25 L 491.75 626.5" stroke="#1c1c1c" stroke-width="0.9" fill="none" />
<ellipse cx="492.25" cy="624.8" rx="1.9" ry="1.14" stroke="#1c1c1c" stroke-width="0.9" fill="#fff" transform="rotate(-76.3 492.25 624.8)"/>
<path d="M 483 620 C 484.25 618.5 487 618.5 488.25 620 M 484.25 625 C 485 626 486.5 626.25 487.5 625.5" stroke="#1c1c1c" stroke-width="1.3" fill="none" />
<path d="M 475.25 630.6 L 476 632.25 M 476.5 625 L 478.5 627.5" stroke="#1c1c1c" stroke-width="0.9" fill="none" />
</g>
<ellipse cx="649.3" cy="474.4" rx="11.6" ry="7.13" stroke="#5a5a5a" stroke-width="0.55" fill="none" transform="rotate(63.44 649.3 474.4)"/>
<ellipse cx="649.3" cy="474.4" rx="10.2" ry="6.12" stroke="#5a5a5a" stroke-width="0.55" fill="none" transform="rotate(63.44 649.3 474.4)"/>
<ellipse cx="650.1" cy="505.3" rx="13.6" ry="8.23" stroke="#5a5a5a" stroke-width="0.55" fill="none" transform="rotate(63.44 650.1 505.3)"/>
<ellipse cx="650.1" cy="505.3" rx="12.2" ry="7.2" stroke="#5a5a5a" stroke-width="0.55" fill="none" transform="rotate(63.44 650.1 505.3)"/>
<path d="M 620.4 510.2 L 627.9 503.45 L 631.9 504.45 L 634.9 502.2 L 638.9 502.7 C 642.9 505.2 645.4 510.2 645.9 515.7 C 646.15 520.7 644.9 524.7 642.4 526.45 L 638.4 529.45 L 638.4 531.8 L 618.9 541.8 L 613.9 538.7 L 611.4 513.7 Z" stroke="#1c1c1c" stroke-width="1.1" fill="#fff" />
<path d="M 635.9 505.3 C 639.9 508.2 642.4 513.7 642.15 518.7 C 641.9 522.2 640.65 524.7 638.9 525.95" stroke="#1c1c1c" stroke-width="0.9" fill="none" />
<path d="M 620.9 510.7 C 625.4 513.7 628.9 519.7 629.9 526.2 C 630.15 529.7 629.15 532.2 627.4 533.7" stroke="#1c1c1c" stroke-width="1.0" fill="none" />
<path d="M 623.9 508.7 C 627.4 511.7 630.4 517.2 631.15 521.7" stroke="#555" stroke-width="0.7" fill="none" />
<path d="M 630 517.8 L 641 513.8 M 630.5 521.7 L 641.5 517.3 M 630.9 525.7 L 641 522.3 M 631.9 527.9 L 638.9 525.8 M 638.9 514.7 L 638.9 525.7 M 641 513.8 L 641.5 521.7" stroke="#1c1c1c" stroke-width="0.9" fill="none" />
<path d="M 623.9 506.8 L 627.9 503.45 M 627.9 503.45 L 629.9 508.7 L 633.9 512.7 M 631.9 504.45 L 633.4 508.7 L 636.4 510.2 M 629.9 508.7 L 633.4 508.7 M 625.4 508.7 L 628.9 510.2" stroke="#1c1c1c" stroke-width="0.8" fill="none" />
<path d="M 618.9 541.8 L 638.4 531.8 M 620.4 538.95 L 635.9 530.95" stroke="#1c1c1c" stroke-width="1.0" fill="none" />
<path d="M 611.9 478.9 L 619.9 477.3 L 625.9 470.66 C 631.1 468.1 639.1 472.1 643.5 482.5 C 644.86 488.1 643.5 492.5 639.5 494.66 L 626.3 501.06 Z" stroke="none" stroke-width="0.001" fill="#fff" />
<path d="M 619.9 477.46 L 625.66 470.82 C 631.1 468.1 639.1 472.1 643.5 482.5 C 644.86 488.1 643.5 492.5 639.5 494.66 L 626.7 500.9" stroke="#1c1c1c" stroke-width="1.1" fill="none" />
<path d="M 629.9 470.34 C 635.1 472.1 639.5 479.3 640.7 488.1 C 640.86 491.3 640.3 493.3 639.1 494.66" stroke="#1c1c1c" stroke-width="1.2" fill="none" />
<path d="M 619.9 477.7 C 623.9 479.3 627.9 485.7 628.86 492.1 C 629.18 496.1 628.3 499.3 626.7 500.9" stroke="#1c1c1c" stroke-width="0.9" fill="none" />
<path d="M 634.3 492.1 L 634.3 499.3 M 635.5 491.46 L 635.5 498.9" stroke="#777" stroke-width="0.6" fill="none" />
<ellipse cx="616" cy="490.9" rx="13.6" ry="8.77" stroke="#1c1c1c" stroke-width="1.4" fill="#fff" transform="rotate(63.44 616 490.9)"/>
<ellipse cx="616.7" cy="490.7" rx="12" ry="7.56" stroke="#555" stroke-width="0.6" fill="#e9e9e9" transform="rotate(63.44 616.7 490.7)"/>
<ellipse cx="618" cy="490.1" rx="10.2" ry="6.12" stroke="#1c1c1c" stroke-width="1.0" fill="#fff" transform="rotate(63.44 618 490.1)"/>
<path d="M 613.8 492.15 L 621.8 488.15" stroke="#444" stroke-width="0.7" fill="none" stroke-linecap="butt" stroke-dasharray="7 2 1.5 2"/>
<path d="M 614.7 502.2 C 612.7 501.96 611.1 503 610.94 504.84 C 608.7 506.2 606.3 508.2 605.5 511.4 C 604.3 516.2 604.7 521 606.7 525.8 C 608.3 529.8 610.7 532.6 612.7 533.8 C 611.5 535.8 611.74 539 612.86 541 C 613.9 542.76 616.3 543 618.14 541.64 C 619.5 540.36 619.9 538.6 619.5 536.84 C 622.3 535 625.1 531.8 626.14 527.4 C 626.7 523 625.5 518.2 623.1 514.2 C 621.9 511.8 620.3 509.8 618.62 507.4 C 618.7 505 617.1 502.6 614.7 502.2 Z" stroke="#1c1c1c" stroke-width="1.4" fill="#fff" />
<path d="M 611.9 507.4 C 609.5 508.6 607.5 511.4 607.1 515.4 C 606.7 520.2 608.3 525.8 611.5 529.8 C 613.5 532.2 615.9 533.4 618.46 533 C 621.5 532.2 624.3 529 624.7 525 C 625.1 520.2 623.1 514.6 619.5 510.6 C 617.5 508.6 614.7 506.6 611.9 507.4 Z" stroke="#444" stroke-width="0.7" fill="none" />
<ellipse cx="616.3" cy="522.2" rx="11.6" ry="6.96" stroke="#1c1c1c" stroke-width="1.1" fill="#fff" transform="rotate(63.44 616.3 522.2)"/>
<ellipse cx="616.7" cy="522.2" rx="10" ry="6" stroke="#555" stroke-width="0.6" fill="#ededed" transform="rotate(63.44 616.7 522.2)"/>
<ellipse cx="617.7" cy="521.7" rx="8.4" ry="4.87" stroke="#555" stroke-width="0.7" fill="#fff" transform="rotate(63.44 617.7 521.7)"/>
<ellipse cx="614.78" cy="505.16" rx="1.7" ry="1.05" stroke="#1c1c1c" stroke-width="0.8" fill="none" transform="rotate(63.44 614.78 505.16)"/>
<ellipse cx="615.58" cy="539" rx="1.8" ry="1.12" stroke="#1c1c1c" stroke-width="0.8" fill="none" transform="rotate(63.44 615.58 539)"/>
<path d="M 613.8 523.45 L 621.3 519.7" stroke="#444" stroke-width="0.7" fill="none" stroke-linecap="butt" stroke-dasharray="7 2 1.5 2"/>
<ellipse cx="596" cy="501.05" rx="11.6" ry="7.13" stroke="#5a5a5a" stroke-width="0.55" fill="none" transform="rotate(63.44 596 501.05)"/>
<ellipse cx="596" cy="501.05" rx="10.2" ry="6.12" stroke="#5a5a5a" stroke-width="0.55" fill="none" transform="rotate(63.44 596 501.05)"/>
<ellipse cx="598" cy="531.35" rx="13.6" ry="8.23" stroke="#5a5a5a" stroke-width="0.55" fill="none" transform="rotate(63.44 598 531.35)"/>
<ellipse cx="598" cy="531.35" rx="12.2" ry="7.2" stroke="#5a5a5a" stroke-width="0.55" fill="none" transform="rotate(63.44 598 531.35)"/>
<path d="M 578 588.35 L 578 649.35" stroke="#555" stroke-width="0.6" fill="none" stroke-linecap="butt" stroke-dasharray="12 2 1.5 2"/>
<path d="M 569.2 658.55 L 569.2 684.05 C 571.2 688.35 584.8 688.35 587 684.05 L 587 658.55 Z" stroke="#1c1c1c" stroke-width="0.9" fill="#fff" />
<path d="M 568.8 662.55 C 571.2 666.55 584.8 666.55 587.4 662.55" stroke="#333" stroke-width="0.7" fill="none" />
<path d="M 569.6 663.45 C 571.8 666.95 584.2 666.95 586.6 663.45" stroke="#888" stroke-width="0.5" fill="none" />
<path d="M 568.8 666.15 C 571.2 670.15 584.8 670.15 587.4 666.15" stroke="#333" stroke-width="0.7" fill="none" />
<path d="M 569.6 667.05 C 571.8 670.55 584.2 670.55 586.6 667.05" stroke="#888" stroke-width="0.5" fill="none" />
<path d="M 568.8 669.75 C 571.2 673.75 584.8 673.75 587.4 669.75" stroke="#333" stroke-width="0.7" fill="none" />
<path d="M 569.6 670.65 C 571.8 674.15 584.2 674.15 586.6 670.65" stroke="#888" stroke-width="0.5" fill="none" />
<path d="M 568.8 673.35 C 571.2 677.35 584.8 677.35 587.4 673.35" stroke="#333" stroke-width="0.7" fill="none" />
<path d="M 569.6 674.25 C 571.8 677.75 584.2 677.75 586.6 674.25" stroke="#888" stroke-width="0.5" fill="none" />
<path d="M 568.8 676.95 C 571.2 680.95 584.8 680.95 587.4 676.95" stroke="#333" stroke-width="0.7" fill="none" />
<path d="M 569.6 677.85 C 571.8 681.35 584.2 681.35 586.6 677.85" stroke="#888" stroke-width="0.5" fill="none" />
<path d="M 568.8 680.55 C 571.2 684.55 584.8 684.55 587.4 680.55" stroke="#333" stroke-width="0.7" fill="none" />
<path d="M 569.6 681.45 C 571.8 684.95 584.2 684.95 586.6 681.45" stroke="#888" stroke-width="0.5" fill="none" />
<path d="M 570.2 683.75 C 573.2 687.35 582.8 687.35 586 683.75" stroke="#666" stroke-width="0.6" fill="none" />
<path d="M 568 655.55 L 568 659.05 C 571 663.55 585 663.55 588.3 659.05 L 588.3 655.55 Z" stroke="#1c1c1c" stroke-width="0.9" fill="#fff" />
<ellipse cx="578.1" cy="655.55" rx="10.2" ry="4.59" stroke="#1c1c1c" stroke-width="0.9" fill="#fff"/>
<path d="M 571 650.35 L 571 654.55 C 573 658.05 583 658.05 585 654.55 L 585 650.35 Z" stroke="#1c1c1c" stroke-width="0.9" fill="#fff" />
<ellipse cx="578" cy="650.35" rx="7" ry="3.5" stroke="#1c1c1c" stroke-width="0.9" fill="#fff"/>
<ellipse cx="578" cy="650.65" rx="5" ry="2.5" stroke="#1c1c1c" stroke-width="0.7" fill="#fff"/>
<path d="M 563.52 620.95 L 563.52 634.95 L 575.2 639.35 L 586.4 638.15 L 592.48 631.35 L 592.48 620.95 Z" stroke="#1c1c1c" stroke-width="0.9" fill="#fff" />
<path d="M 565.8 627.35 L 567 627.95 L 567 635.55 L 565.8 635.03 Z" stroke="none" stroke-width="0.001" fill="#cfcfcf" />
<path d="M 574.08 630.35 L 576.08 630.55 L 576.08 639.15 L 574.08 638.95 Z" stroke="none" stroke-width="0.001" fill="#cfcfcf" />
<path d="M 586.4 629.15 L 588.8 628.15 L 588.8 637.15 L 586.4 638.15 Z" stroke="none" stroke-width="0.001" fill="#cfcfcf" />
<path d="M 565.8 627.35 L 565.8 635.03 M 574.08 630.35 L 574.08 638.95 M 576.08 630.55 L 576.08 639.15 M 586.4 629.15 L 586.4 638.15 M 588.8 628.15 L 588.8 637.15" stroke="#444" stroke-width="0.7" fill="none" />
<path d="M 591.68 624.15 L 591.92 630.55" stroke="#1c1c1c" stroke-width="1.8" fill="none" />
<path d="M 564 634.95 L 566.2 634.87 M 575.4 638.95 L 574.72 640.75 M 586 638.07 L 588.2 638.35" stroke="#1c1c1c" stroke-width="1.9" fill="none" />
<ellipse cx="578" cy="620.95" rx="14.6" ry="8.5" stroke="#1c1c1c" stroke-width="1.0" fill="#fff"/>
<ellipse cx="578.1" cy="620.35" rx="11" ry="6.1" stroke="#1c1c1c" stroke-width="1.3" fill="#fff"/>
<path d="M 571.6 625.35 C 574.4 623.35 581.6 623.35 584.4 625.35" stroke="#777" stroke-width="0.6" fill="none" />
<path d="M 570.4 624.55 C 573.6 627.35 582.4 627.35 586 624.55" stroke="#666" stroke-width="0.6" fill="none" />
<ellipse cx="578" cy="600.95" rx="12" ry="6" stroke="#3a3a3a" stroke-width="0.6" fill="none"/>
<ellipse cx="578" cy="600.95" rx="10.5" ry="5.04" stroke="#3a3a3a" stroke-width="0.6" fill="none"/>
<path d="M 547.39 510.82 L 566.39 501.32 L 578.01 524.58 L 559.01 534.08 Z" stroke="none" stroke-width="0.001" fill="#fff" />
<path d="M 547.99 510.62 L 551.79 508.72 L 552.79 510.22 L 566.39 503.37" stroke="#1c1c1c" stroke-width="0.9" fill="none" />
<ellipse cx="556.8" cy="520.65" rx="12.6" ry="8.13" stroke="#1c1c1c" stroke-width="0.9" fill="#fff" transform="rotate(63.44 556.8 520.65)"/>
<path d="M 547.39 510.82 L 550.99 509.02 L 562.61 532.28 L 559.01 534.08 Z" stroke="none" stroke-width="0.001" fill="#fff" />
<line x1="547.39" y1="510.82" x2="550.99" y2="509.02" stroke="#1c1c1c" stroke-width="0.9" />
<ellipse cx="553.2" cy="522.45" rx="13" ry="8.38" stroke="#1c1c1c" stroke-width="1.5" fill="#fff" transform="rotate(63.44 553.2 522.45)"/>
<ellipse cx="553.7" cy="522.25" rx="11.6" ry="7.31" stroke="#555" stroke-width="0.6" fill="#e9e9e9" transform="rotate(63.44 553.7 522.25)"/>
<ellipse cx="554.9" cy="521.65" rx="9.9" ry="5.94" stroke="#1c1c1c" stroke-width="0.9" fill="#fff" transform="rotate(63.44 554.9 521.65)"/>
<path d="M 550.7 523.7 L 558.7 519.7" stroke="#444" stroke-width="0.7" fill="none" stroke-linecap="butt" stroke-dasharray="7 2 1.5 2"/>
<path d="M 567.75 484.75 L 567.75 535.25 L 588.1 535.25 L 588.1 484.75 Z" stroke="none" stroke-width="0.001" fill="#fff" />
<path d="M 567.75 485.25 L 567.75 535.25 M 588.1 485.25 L 588.1 535.25" stroke="#2a2a2a" stroke-width="0.9" fill="none" />
<path d="M 567.85 528.25 C 572.25 531.5 583.75 531.5 588 528.25 M 567.85 530.25 C 572.25 533.5 583.75 533.5 588 530.25" stroke="#555" stroke-width="0.7" fill="none" />
<path d="M 567.75 484.25 L 568.25 486.35 L 572.25 488.85 L 583.25 488.85 L 587.75 486.35 L 588.1 484.25 Z" stroke="#2a2a2a" stroke-width="0.9" fill="#fff" />
<path d="M 572.25 487.5 L 572.25 488.85 M 583.25 487.5 L 583.25 488.85" stroke="#2a2a2a" stroke-width="0.7" fill="none" />
<path d="M 568.5 469.25 L 565 469.35 C 564 469.5 563.75 470 563.75 471 L 563.75 478.75 C 563.85 479.75 564.5 480.25 565.25 480.75 L 568.5 482.5 Z" stroke="#2a2a2a" stroke-width="0.9" fill="#fff" />
<path d="M 587.75 469.5 L 590.75 469.35 C 591.75 469.5 592.05 470 592.05 471 L 592.05 479 C 591.95 479.85 591.5 480.25 590.75 480.65 L 587.75 482.25 Z" stroke="#2a2a2a" stroke-width="0.9" fill="#fff" />
<path d="M 568.5 469.5 L 576.75 472.35 L 587.75 469.5 L 587.75 482.35 L 576.75 485.85 L 568.5 482.85 Z" stroke="#2a2a2a" stroke-width="0.9" fill="#fff" />
<path d="M 576.75 472.35 L 576.75 485.85" stroke="#2a2a2a" stroke-width="1.1" fill="none" />
<path d="M 579.25 471.85 L 579.25 485.15" stroke="#777" stroke-width="0.7" fill="none" />
<path d="M 576.85 472.5 L 579.15 471.9 L 579.15 485.15 L 576.85 485.75 Z" stroke="none" stroke-width="0.001" fill="#e3e3e3" />
<path d="M 568.5 482.85 L 568.25 484.75 L 576.75 487.5 L 588 484.5 L 587.75 482.35" stroke="#2a2a2a" stroke-width="0.8" fill="none" />
<path d="M 569.5 461.5 L 569.5 469.85 L 576.75 472.35 L 586.5 469.85 L 586.5 461.5 Z" stroke="none" stroke-width="0.001" fill="#fff" />
<path d="M 569.5 461.75 L 569.5 469.65 M 586.5 461.75 L 586.5 469.65" stroke="#2a2a2a" stroke-width="0.9" fill="none" />
<path d="M 569.65 465.25 C 573.25 468.25 582.75 468.25 586.35 465.25" stroke="#777" stroke-width="0.6" fill="none" />
<ellipse cx="578" cy="461.5" rx="8.5" ry="3.99" stroke="#2a2a2a" stroke-width="1.0" fill="#fff"/>
<ellipse cx="578" cy="461.8" rx="7" ry="3.08" stroke="#555" stroke-width="0.7" fill="#f2f2f2"/>
<path d="M 556.04 568.45 L 568.2 562.45 L 568.2 566.45 L 556.36 572.29 Z" stroke="none" stroke-width="0.001" fill="#fff" />
<path d="M 556.36 572.29 L 568.2 566.45 M 558.6 566.85 L 568.2 562.21" stroke="#1c1c1c" stroke-width="0.9" fill="none" />
<path d="M 551.8 533.65 C 549.8 533.41 548.2 534.45 548.04 536.29 C 545.8 537.65 543.4 539.65 542.6 542.85 C 541.4 547.65 541.8 552.45 543.8 557.25 C 545.4 561.25 547.8 564.05 549.8 565.25 C 548.6 567.25 548.84 570.45 549.96 572.45 C 551 574.21 553.4 574.45 555.24 573.09 C 556.6 571.81 557 570.05 556.6 568.29 C 559.4 566.45 562.2 563.25 563.24 558.85 C 563.8 554.45 562.6 549.65 560.2 545.65 C 559 543.25 557.4 541.25 555.72 538.85 C 555.8 536.45 554.2 534.05 551.8 533.65 Z" stroke="#1c1c1c" stroke-width="1.4" fill="#fff" />
<path d="M 549 538.85 C 546.6 540.05 544.6 542.85 544.2 546.85 C 543.8 551.65 545.4 557.25 548.6 561.25 C 550.6 563.65 553 564.85 555.56 564.45 C 558.6 563.65 561.4 560.45 561.8 556.45 C 562.2 551.65 560.2 546.05 556.6 542.05 C 554.6 540.05 551.8 538.05 549 538.85 Z" stroke="#444" stroke-width="0.7" fill="none" />
<ellipse cx="553.4" cy="553.65" rx="11.6" ry="6.96" stroke="#1c1c1c" stroke-width="1.1" fill="#fff" transform="rotate(63.44 553.4 553.65)"/>
<ellipse cx="553.8" cy="553.65" rx="10" ry="6" stroke="#555" stroke-width="0.6" fill="#ededed" transform="rotate(63.44 553.8 553.65)"/>
<ellipse cx="554.8" cy="553.15" rx="8.4" ry="4.87" stroke="#555" stroke-width="0.7" fill="#fff" transform="rotate(63.44 554.8 553.15)"/>
<ellipse cx="551.88" cy="536.61" rx="1.7" ry="1.05" stroke="#1c1c1c" stroke-width="0.8" fill="none" transform="rotate(63.44 551.88 536.61)"/>
<ellipse cx="552.68" cy="570.45" rx="1.8" ry="1.12" stroke="#1c1c1c" stroke-width="0.8" fill="none" transform="rotate(63.44 552.68 570.45)"/>
<path d="M 550.9 554.9 L 558.4 551.15" stroke="#444" stroke-width="0.7" fill="none" stroke-linecap="butt" stroke-dasharray="7 2 1.5 2"/>
<path d="M 567.4 537.35 L 567.4 584.55 C 570 589.15 586 589.15 588.8 584.55 L 588.8 537.35 Z" stroke="#1c1c1c" stroke-width="0.9" fill="#fff" />
<path d="M 567.4 582.35 C 570 586.95 586 586.95 588.8 582.35" stroke="#666" stroke-width="0.6" fill="none" />
<path d="M 564.6 511.25 L 564.6 539.35 C 568.6 545.85 587.1 545.85 591.1 539.35 L 591.1 511.25 Z" stroke="#1c1c1c" stroke-width="0.9" fill="#fff" />
<path d="M 564.6 536.85 C 568.6 543.35 587.1 543.35 591.1 536.85" stroke="#666" stroke-width="0.6" fill="none" />
<path d="M 564.6 516.75 C 568.6 523.25 587.1 523.25 591.1 516.75" stroke="#444" stroke-width="0.7" fill="none" />
<ellipse cx="577.85" cy="511.25" rx="13.3" ry="5.85" stroke="#1c1c1c" stroke-width="1.0" fill="#fff"/>
<ellipse cx="577.8" cy="510.95" rx="10.8" ry="4.54" stroke="#444" stroke-width="0.7" fill="#fff"/>
<path d="M 567.8 506.25 L 567.8 513.25 M 588.2 506.25 L 588.2 513.25" stroke="#1c1c1c" stroke-width="0.8" fill="none" />
<path d="M 568 508.75 C 573 512.65 583 512.65 588 508.75 M 568 510.95 C 573 514.85 583 514.85 588 510.95" stroke="#333" stroke-width="0.7" fill="none" />
<g transform="translate(586.5 560) scale(1.0) translate(-471.5 -617.5)">
<path d="M 456.5 609.5 L 471.5 607.5 L 471.5 627 L 456.5 625 Z" stroke="none" stroke-width="0.001" fill="#fff" />
<path d="M 455 610 L 466.5 608.75 M 455.5 612.25 L 464.5 621 M 455.5 621 L 466 611.5 M 456.5 624.5 L 465 625" stroke="#1c1c1c" stroke-width="0.8" fill="none" />
<ellipse cx="471.5" cy="617.5" rx="14.8" ry="7.25" stroke="#1c1c1c" stroke-width="1.2" fill="#fff" transform="rotate(-76.3 471.5 617.5)"/>
<ellipse cx="472.6" cy="617.75" rx="14" ry="6.86" stroke="#1c1c1c" stroke-width="0.7" fill="#fff" transform="rotate(-76.3 472.6 617.75)"/>
<ellipse cx="474.9" cy="618" rx="13.4" ry="6.7" stroke="#1c1c1c" stroke-width="0.9" fill="#fff" transform="rotate(-76.3 474.9 618)"/>
<ellipse cx="476" cy="618.15" rx="13.1" ry="6.55" stroke="#555" stroke-width="0.6" fill="#fff" transform="rotate(-76.3 476 618.15)"/>
<ellipse cx="478.5" cy="618.25" rx="14.25" ry="7.12" stroke="#1c1c1c" stroke-width="1.0" fill="#fff" transform="rotate(-76.3 478.5 618.25)"/>
<ellipse cx="482.25" cy="618.5" rx="14.25" ry="7.12" stroke="#1c1c1c" stroke-width="1.2" fill="#fff" transform="rotate(-76.3 482.25 618.5)"/>
<ellipse cx="483.1" cy="619" rx="13.1" ry="6.55" stroke="#444" stroke-width="0.6" fill="#fff" transform="rotate(-76.3 483.1 619)"/>
<ellipse cx="484.5" cy="620.75" rx="10" ry="5.2" stroke="#1c1c1c" stroke-width="0.9" fill="#fff" transform="rotate(-76.3 484.5 620.75)"/>
<ellipse cx="485" cy="621.75" rx="8.25" ry="4.29" stroke="#1c1c1c" stroke-width="0.7" fill="#fff" transform="rotate(-76.3 485 621.75)"/>
<ellipse cx="485.6" cy="623" rx="5.75" ry="3.33" stroke="#1c1c1c" stroke-width="1.0" fill="#d9d9d9" transform="rotate(-76.3 485.6 623)"/>
<ellipse cx="485.9" cy="623.1" rx="4" ry="2.32" stroke="#1c1c1c" stroke-width="0.8" fill="#fff" transform="rotate(-76.3 485.9 623.1)"/>
<path d="M 487 621 L 492.6 623 L 492 626.5 L 486.25 625 Z" stroke="none" stroke-width="0.001" fill="#fff" />
<path d="M 487.5 621.25 L 492.6 623.1 M 487 625.25 L 491.75 626.5" stroke="#1c1c1c" stroke-width="0.9" fill="none" />
<ellipse cx="492.25" cy="624.8" rx="1.9" ry="1.14" stroke="#1c1c1c" stroke-width="0.9" fill="#fff" transform="rotate(-76.3 492.25 624.8)"/>
<path d="M 483 620 C 484.25 618.5 487 618.5 488.25 620 M 484.25 625 C 485 626 486.5 626.25 487.5 625.5" stroke="#1c1c1c" stroke-width="1.3" fill="none" />
<path d="M 475.25 630.6 L 476 632.25 M 476.5 625 L 478.5 627.5" stroke="#1c1c1c" stroke-width="0.9" fill="none" />
</g>
<ellipse cx="535" cy="531.55" rx="11.6" ry="7.13" stroke="#5a5a5a" stroke-width="0.55" fill="none" transform="rotate(63.44 535 531.55)"/>
<ellipse cx="535" cy="531.55" rx="10.2" ry="6.12" stroke="#5a5a5a" stroke-width="0.55" fill="none" transform="rotate(63.44 535 531.55)"/>
<ellipse cx="535.8" cy="562.45" rx="13.6" ry="8.23" stroke="#5a5a5a" stroke-width="0.55" fill="none" transform="rotate(63.44 535.8 562.45)"/>
<ellipse cx="535.8" cy="562.45" rx="12.2" ry="7.2" stroke="#5a5a5a" stroke-width="0.55" fill="none" transform="rotate(63.44 535.8 562.45)"/>
<path d="M 504.5 568.15 L 512 561.4 L 516 562.4 L 519 560.15 L 523 560.65 C 527 563.15 529.5 568.15 530 573.65 C 530.25 578.65 529 582.65 526.5 584.4 L 522.5 587.4 L 522.5 589.75 L 503 599.75 L 498 596.65 L 495.5 571.65 Z" stroke="#1c1c1c" stroke-width="1.1" fill="#fff" />
<path d="M 520 563.25 C 524 566.15 526.5 571.65 526.25 576.65 C 526 580.15 524.75 582.65 523 583.9" stroke="#1c1c1c" stroke-width="0.9" fill="none" />
<path d="M 505 568.65 C 509.5 571.65 513 577.65 514 584.15 C 514.25 587.65 513.25 590.15 511.5 591.65" stroke="#1c1c1c" stroke-width="1.0" fill="none" />
<path d="M 508 566.65 C 511.5 569.65 514.5 575.15 515.25 579.65" stroke="#555" stroke-width="0.7" fill="none" />
<path d="M 514.1 575.75 L 525.1 571.75 M 514.6 579.65 L 525.6 575.25 M 515 583.65 L 525.1 580.25 M 516 585.85 L 523 583.75 M 523 572.65 L 523 583.65 M 525.1 571.75 L 525.6 579.65" stroke="#1c1c1c" stroke-width="0.9" fill="none" />
<path d="M 508 564.75 L 512 561.4 M 512 561.4 L 514 566.65 L 518 570.65 M 516 562.4 L 517.5 566.65 L 520.5 568.15 M 514 566.65 L 517.5 566.65 M 509.5 566.65 L 513 568.15" stroke="#1c1c1c" stroke-width="0.8" fill="none" />
<path d="M 503 599.75 L 522.5 589.75 M 504.5 596.9 L 520 588.9" stroke="#1c1c1c" stroke-width="1.0" fill="none" />
<path d="M 496 536.85 L 504 535.25 L 510 528.61 C 515.2 526.05 523.2 530.05 527.6 540.45 C 528.96 546.05 527.6 550.45 523.6 552.61 L 510.4 559.01 Z" stroke="none" stroke-width="0.001" fill="#fff" />
<path d="M 504 535.41 L 509.76 528.77 C 515.2 526.05 523.2 530.05 527.6 540.45 C 528.96 546.05 527.6 550.45 523.6 552.61 L 510.8 558.85" stroke="#1c1c1c" stroke-width="1.1" fill="none" />
<path d="M 514 528.29 C 519.2 530.05 523.6 537.25 524.8 546.05 C 524.96 549.25 524.4 551.25 523.2 552.61" stroke="#1c1c1c" stroke-width="1.2" fill="none" />
<path d="M 504 535.65 C 508 537.25 512 543.65 512.96 550.05 C 513.28 554.05 512.4 557.25 510.8 558.85" stroke="#1c1c1c" stroke-width="0.9" fill="none" />
<path d="M 518.4 550.05 L 518.4 557.25 M 519.6 549.41 L 519.6 556.85" stroke="#777" stroke-width="0.6" fill="none" />
<ellipse cx="500.1" cy="548.85" rx="13.6" ry="8.77" stroke="#1c1c1c" stroke-width="1.4" fill="#fff" transform="rotate(63.44 500.1 548.85)"/>
<ellipse cx="500.8" cy="548.65" rx="12" ry="7.56" stroke="#555" stroke-width="0.6" fill="#e9e9e9" transform="rotate(63.44 500.8 548.65)"/>
<ellipse cx="502.1" cy="548.05" rx="10.2" ry="6.12" stroke="#1c1c1c" stroke-width="1.0" fill="#fff" transform="rotate(63.44 502.1 548.05)"/>
<path d="M 497.9 550.1 L 505.9 546.1" stroke="#444" stroke-width="0.7" fill="none" stroke-linecap="butt" stroke-dasharray="7 2 1.5 2"/>
<path d="M 498.8 560.15 C 496.8 559.91 495.2 560.95 495.04 562.79 C 492.8 564.15 490.4 566.15 489.6 569.35 C 488.4 574.15 488.8 578.95 490.8 583.75 C 492.4 587.75 494.8 590.55 496.8 591.75 C 495.6 593.75 495.84 596.95 496.96 598.95 C 498 600.71 500.4 600.95 502.24 599.59 C 503.6 598.31 504 596.55 503.6 594.79 C 506.4 592.95 509.2 589.75 510.24 585.35 C 510.8 580.95 509.6 576.15 507.2 572.15 C 506 569.75 504.4 567.75 502.72 565.35 C 502.8 562.95 501.2 560.55 498.8 560.15 Z" stroke="#1c1c1c" stroke-width="1.4" fill="#fff" />
<path d="M 496 565.35 C 493.6 566.55 491.6 569.35 491.2 573.35 C 490.8 578.15 492.4 583.75 495.6 587.75 C 497.6 590.15 500 591.35 502.56 590.95 C 505.6 590.15 508.4 586.95 508.8 582.95 C 509.2 578.15 507.2 572.55 503.6 568.55 C 501.6 566.55 498.8 564.55 496 565.35 Z" stroke="#444" stroke-width="0.7" fill="none" />
<ellipse cx="500.4" cy="580.15" rx="11.6" ry="6.96" stroke="#1c1c1c" stroke-width="1.1" fill="#fff" transform="rotate(63.44 500.4 580.15)"/>
<ellipse cx="500.8" cy="580.15" rx="10" ry="6" stroke="#555" stroke-width="0.6" fill="#ededed" transform="rotate(63.44 500.8 580.15)"/>
<ellipse cx="501.8" cy="579.65" rx="8.4" ry="4.87" stroke="#555" stroke-width="0.7" fill="#fff" transform="rotate(63.44 501.8 579.65)"/>
<ellipse cx="498.88" cy="563.11" rx="1.7" ry="1.05" stroke="#1c1c1c" stroke-width="0.8" fill="none" transform="rotate(63.44 498.88 563.11)"/>
<ellipse cx="499.68" cy="596.95" rx="1.8" ry="1.12" stroke="#1c1c1c" stroke-width="0.8" fill="none" transform="rotate(63.44 499.68 596.95)"/>
<path d="M 497.9 581.4 L 505.4 577.65" stroke="#444" stroke-width="0.7" fill="none" stroke-linecap="butt" stroke-dasharray="7 2 1.5 2"/>
<ellipse cx="481.5" cy="558.3" rx="11.6" ry="7.13" stroke="#5a5a5a" stroke-width="0.55" fill="none" transform="rotate(63.44 481.5 558.3)"/>
<ellipse cx="481.5" cy="558.3" rx="10.2" ry="6.12" stroke="#5a5a5a" stroke-width="0.55" fill="none" transform="rotate(63.44 481.5 558.3)"/>
<ellipse cx="483.5" cy="588.6" rx="13.6" ry="8.23" stroke="#5a5a5a" stroke-width="0.55" fill="none" transform="rotate(63.44 483.5 588.6)"/>
<ellipse cx="483.5" cy="588.6" rx="12.2" ry="7.2" stroke="#5a5a5a" stroke-width="0.55" fill="none" transform="rotate(63.44 483.5 588.6)"/>
<path d="M 463 645.85 L 463 706.85" stroke="#555" stroke-width="0.6" fill="none" stroke-linecap="butt" stroke-dasharray="12 2 1.5 2"/>
<path d="M 454.2 716.05 L 454.2 741.55 C 456.2 745.85 469.8 745.85 472 741.55 L 472 716.05 Z" stroke="#1c1c1c" stroke-width="0.9" fill="#fff" />
<path d="M 453.8 720.05 C 456.2 724.05 469.8 724.05 472.4 720.05" stroke="#333" stroke-width="0.7" fill="none" />
<path d="M 454.6 720.95 C 456.8 724.45 469.2 724.45 471.6 720.95" stroke="#888" stroke-width="0.5" fill="none" />
<path d="M 453.8 723.65 C 456.2 727.65 469.8 727.65 472.4 723.65" stroke="#333" stroke-width="0.7" fill="none" />
<path d="M 454.6 724.55 C 456.8 728.05 469.2 728.05 471.6 724.55" stroke="#888" stroke-width="0.5" fill="none" />
<path d="M 453.8 727.25 C 456.2 731.25 469.8 731.25 472.4 727.25" stroke="#333" stroke-width="0.7" fill="none" />
<path d="M 454.6 728.15 C 456.8 731.65 469.2 731.65 471.6 728.15" stroke="#888" stroke-width="0.5" fill="none" />
<path d="M 453.8 730.85 C 456.2 734.85 469.8 734.85 472.4 730.85" stroke="#333" stroke-width="0.7" fill="none" />
<path d="M 454.6 731.75 C 456.8 735.25 469.2 735.25 471.6 731.75" stroke="#888" stroke-width="0.5" fill="none" />
<path d="M 453.8 734.45 C 456.2 738.45 469.8 738.45 472.4 734.45" stroke="#333" stroke-width="0.7" fill="none" />
<path d="M 454.6 735.35 C 456.8 738.85 469.2 738.85 471.6 735.35" stroke="#888" stroke-width="0.5" fill="none" />
<path d="M 453.8 738.05 C 456.2 742.05 469.8 742.05 472.4 738.05" stroke="#333" stroke-width="0.7" fill="none" />
<path d="M 454.6 738.95 C 456.8 742.45 469.2 742.45 471.6 738.95" stroke="#888" stroke-width="0.5" fill="none" />
<path d="M 455.2 741.25 C 458.2 744.85 467.8 744.85 471 741.25" stroke="#666" stroke-width="0.6" fill="none" />
<path d="M 453 713.05 L 453 716.55 C 456 721.05 470 721.05 473.3 716.55 L 473.3 713.05 Z" stroke="#1c1c1c" stroke-width="0.9" fill="#fff" />
<ellipse cx="463.1" cy="713.05" rx="10.2" ry="4.59" stroke="#1c1c1c" stroke-width="0.9" fill="#fff"/>
<path d="M 456 707.85 L 456 712.05 C 458 715.55 468 715.55 470 712.05 L 470 707.85 Z" stroke="#1c1c1c" stroke-width="0.9" fill="#fff" />
<ellipse cx="463" cy="707.85" rx="7" ry="3.5" stroke="#1c1c1c" stroke-width="0.9" fill="#fff"/>
<ellipse cx="463" cy="708.15" rx="5" ry="2.5" stroke="#1c1c1c" stroke-width="0.7" fill="#fff"/>
<path d="M 448.52 678.45 L 448.52 692.45 L 460.2 696.85 L 471.4 695.65 L 477.48 688.85 L 477.48 678.45 Z" stroke="#1c1c1c" stroke-width="0.9" fill="#fff" />
<path d="M 450.8 684.85 L 452 685.45 L 452 693.05 L 450.8 692.53 Z" stroke="none" stroke-width="0.001" fill="#cfcfcf" />
<path d="M 459.08 687.85 L 461.08 688.05 L 461.08 696.65 L 459.08 696.45 Z" stroke="none" stroke-width="0.001" fill="#cfcfcf" />
<path d="M 471.4 686.65 L 473.8 685.65 L 473.8 694.65 L 471.4 695.65 Z" stroke="none" stroke-width="0.001" fill="#cfcfcf" />
<path d="M 450.8 684.85 L 450.8 692.53 M 459.08 687.85 L 459.08 696.45 M 461.08 688.05 L 461.08 696.65 M 471.4 686.65 L 471.4 695.65 M 473.8 685.65 L 473.8 694.65" stroke="#444" stroke-width="0.7" fill="none" />
<path d="M 476.68 681.65 L 476.92 688.05" stroke="#1c1c1c" stroke-width="1.8" fill="none" />
<path d="M 449 692.45 L 451.2 692.37 M 460.4 696.45 L 459.72 698.25 M 471 695.57 L 473.2 695.85" stroke="#1c1c1c" stroke-width="1.9" fill="none" />
<ellipse cx="463" cy="678.45" rx="14.6" ry="8.5" stroke="#1c1c1c" stroke-width="1.0" fill="#fff"/>
<ellipse cx="463.1" cy="677.85" rx="11" ry="6.1" stroke="#1c1c1c" stroke-width="1.3" fill="#fff"/>
<path d="M 456.6 682.85 C 459.4 680.85 466.6 680.85 469.4 682.85" stroke="#777" stroke-width="0.6" fill="none" />
<path d="M 455.4 682.05 C 458.6 684.85 467.4 684.85 471 682.05" stroke="#666" stroke-width="0.6" fill="none" />
<ellipse cx="463" cy="658.45" rx="12" ry="6" stroke="#3a3a3a" stroke-width="0.6" fill="none"/>
<ellipse cx="463" cy="658.45" rx="10.5" ry="5.04" stroke="#3a3a3a" stroke-width="0.6" fill="none"/>
<path d="M 432.39 568.32 L 451.39 558.82 L 463.01 582.08 L 444.01 591.58 Z" stroke="none" stroke-width="0.001" fill="#fff" />
<path d="M 432.99 568.12 L 436.79 566.22 L 437.79 567.72 L 451.39 560.87" stroke="#1c1c1c" stroke-width="0.9" fill="none" />
<ellipse cx="441.8" cy="578.15" rx="12.6" ry="8.13" stroke="#1c1c1c" stroke-width="0.9" fill="#fff" transform="rotate(63.44 441.8 578.15)"/>
<path d="M 432.39 568.32 L 435.99 566.52 L 447.61 589.78 L 444.01 591.58 Z" stroke="none" stroke-width="0.001" fill="#fff" />
<line x1="432.39" y1="568.32" x2="435.99" y2="566.52" stroke="#1c1c1c" stroke-width="0.9" />
<ellipse cx="438.2" cy="579.95" rx="13" ry="8.38" stroke="#1c1c1c" stroke-width="1.5" fill="#fff" transform="rotate(63.44 438.2 579.95)"/>
<ellipse cx="438.7" cy="579.75" rx="11.6" ry="7.31" stroke="#555" stroke-width="0.6" fill="#e9e9e9" transform="rotate(63.44 438.7 579.75)"/>
<ellipse cx="439.9" cy="579.15" rx="9.9" ry="5.94" stroke="#1c1c1c" stroke-width="0.9" fill="#fff" transform="rotate(63.44 439.9 579.15)"/>
<path d="M 435.7 581.2 L 443.7 577.2" stroke="#444" stroke-width="0.7" fill="none" stroke-linecap="butt" stroke-dasharray="7 2 1.5 2"/>
<path d="M 452.75 542.25 L 452.75 592.75 L 473.1 592.75 L 473.1 542.25 Z" stroke="none" stroke-width="0.001" fill="#fff" />
<path d="M 452.75 542.75 L 452.75 592.75 M 473.1 542.75 L 473.1 592.75" stroke="#2a2a2a" stroke-width="0.9" fill="none" />
<path d="M 452.85 585.75 C 457.25 589 468.75 589 473 585.75 M 452.85 587.75 C 457.25 591 468.75 591 473 587.75" stroke="#555" stroke-width="0.7" fill="none" />
<path d="M 452.75 541.75 L 453.25 543.85 L 457.25 546.35 L 468.25 546.35 L 472.75 543.85 L 473.1 541.75 Z" stroke="#2a2a2a" stroke-width="0.9" fill="#fff" />
<path d="M 457.25 545 L 457.25 546.35 M 468.25 545 L 468.25 546.35" stroke="#2a2a2a" stroke-width="0.7" fill="none" />
<path d="M 453.5 526.75 L 450 526.85 C 449 527 448.75 527.5 448.75 528.5 L 448.75 536.25 C 448.85 537.25 449.5 537.75 450.25 538.25 L 453.5 540 Z" stroke="#2a2a2a" stroke-width="0.9" fill="#fff" />
<path d="M 472.75 527 L 475.75 526.85 C 476.75 527 477.05 527.5 477.05 528.5 L 477.05 536.5 C 476.95 537.35 476.5 537.75 475.75 538.15 L 472.75 539.75 Z" stroke="#2a2a2a" stroke-width="0.9" fill="#fff" />
<path d="M 453.5 527 L 461.75 529.85 L 472.75 527 L 472.75 539.85 L 461.75 543.35 L 453.5 540.35 Z" stroke="#2a2a2a" stroke-width="0.9" fill="#fff" />
<path d="M 461.75 529.85 L 461.75 543.35" stroke="#2a2a2a" stroke-width="1.1" fill="none" />
<path d="M 464.25 529.35 L 464.25 542.65" stroke="#777" stroke-width="0.7" fill="none" />
<path d="M 461.85 530 L 464.15 529.4 L 464.15 542.65 L 461.85 543.25 Z" stroke="none" stroke-width="0.001" fill="#e3e3e3" />
<path d="M 453.5 540.35 L 453.25 542.25 L 461.75 545 L 473 542 L 472.75 539.85" stroke="#2a2a2a" stroke-width="0.8" fill="none" />
<path d="M 454.5 519 L 454.5 527.35 L 461.75 529.85 L 471.5 527.35 L 471.5 519 Z" stroke="none" stroke-width="0.001" fill="#fff" />
<path d="M 454.5 519.25 L 454.5 527.15 M 471.5 519.25 L 471.5 527.15" stroke="#2a2a2a" stroke-width="0.9" fill="none" />
<path d="M 454.65 522.75 C 458.25 525.75 467.75 525.75 471.35 522.75" stroke="#777" stroke-width="0.6" fill="none" />
<ellipse cx="463" cy="519" rx="8.5" ry="3.99" stroke="#2a2a2a" stroke-width="1.0" fill="#fff"/>
<ellipse cx="463" cy="519.3" rx="7" ry="3.08" stroke="#555" stroke-width="0.7" fill="#f2f2f2"/>
<path d="M 441.04 625.95 L 453.2 619.95 L 453.2 623.95 L 441.36 629.79 Z" stroke="none" stroke-width="0.001" fill="#fff" />
<path d="M 441.36 629.79 L 453.2 623.95 M 443.6 624.35 L 453.2 619.71" stroke="#1c1c1c" stroke-width="0.9" fill="none" />
<path d="M 436.8 591.15 C 434.8 590.91 433.2 591.95 433.04 593.79 C 430.8 595.15 428.4 597.15 427.6 600.35 C 426.4 605.15 426.8 609.95 428.8 614.75 C 430.4 618.75 432.8 621.55 434.8 622.75 C 433.6 624.75 433.84 627.95 434.96 629.95 C 436 631.71 438.4 631.95 440.24 630.59 C 441.6 629.31 442 627.55 441.6 625.79 C 444.4 623.95 447.2 620.75 448.24 616.35 C 448.8 611.95 447.6 607.15 445.2 603.15 C 444 600.75 442.4 598.75 440.72 596.35 C 440.8 593.95 439.2 591.55 436.8 591.15 Z" stroke="#1c1c1c" stroke-width="1.4" fill="#fff" />
<path d="M 434 596.35 C 431.6 597.55 429.6 600.35 429.2 604.35 C 428.8 609.15 430.4 614.75 433.6 618.75 C 435.6 621.15 438 622.35 440.56 621.95 C 443.6 621.15 446.4 617.95 446.8 613.95 C 447.2 609.15 445.2 603.55 441.6 599.55 C 439.6 597.55 436.8 595.55 434 596.35 Z" stroke="#444" stroke-width="0.7" fill="none" />
<ellipse cx="438.4" cy="611.15" rx="11.6" ry="6.96" stroke="#1c1c1c" stroke-width="1.1" fill="#fff" transform="rotate(63.44 438.4 611.15)"/>
<ellipse cx="438.8" cy="611.15" rx="10" ry="6" stroke="#555" stroke-width="0.6" fill="#ededed" transform="rotate(63.44 438.8 611.15)"/>
<ellipse cx="439.8" cy="610.65" rx="8.4" ry="4.87" stroke="#555" stroke-width="0.7" fill="#fff" transform="rotate(63.44 439.8 610.65)"/>
<ellipse cx="436.88" cy="594.11" rx="1.7" ry="1.05" stroke="#1c1c1c" stroke-width="0.8" fill="none" transform="rotate(63.44 436.88 594.11)"/>
<ellipse cx="437.68" cy="627.95" rx="1.8" ry="1.12" stroke="#1c1c1c" stroke-width="0.8" fill="none" transform="rotate(63.44 437.68 627.95)"/>
<path d="M 435.9 612.4 L 443.4 608.65" stroke="#444" stroke-width="0.7" fill="none" stroke-linecap="butt" stroke-dasharray="7 2 1.5 2"/>
<path d="M 452.4 594.85 L 452.4 642.05 C 455 646.65 471 646.65 473.8 642.05 L 473.8 594.85 Z" stroke="#1c1c1c" stroke-width="0.9" fill="#fff" />
<path d="M 452.4 639.85 C 455 644.45 471 644.45 473.8 639.85" stroke="#666" stroke-width="0.6" fill="none" />
<path d="M 449.6 568.75 L 449.6 596.85 C 453.6 603.35 472.1 603.35 476.1 596.85 L 476.1 568.75 Z" stroke="#1c1c1c" stroke-width="0.9" fill="#fff" />
<path d="M 449.6 594.35 C 453.6 600.85 472.1 600.85 476.1 594.35" stroke="#666" stroke-width="0.6" fill="none" />
<path d="M 449.6 574.25 C 453.6 580.75 472.1 580.75 476.1 574.25" stroke="#444" stroke-width="0.7" fill="none" />
<ellipse cx="462.85" cy="568.75" rx="13.3" ry="5.85" stroke="#1c1c1c" stroke-width="1.0" fill="#fff"/>
<ellipse cx="462.8" cy="568.45" rx="10.8" ry="4.54" stroke="#444" stroke-width="0.7" fill="#fff"/>
<path d="M 452.8 563.75 L 452.8 570.75 M 473.2 563.75 L 473.2 570.75" stroke="#1c1c1c" stroke-width="0.8" fill="none" />
<path d="M 453 566.25 C 458 570.15 468 570.15 473 566.25 M 453 568.45 C 458 572.35 468 572.35 473 568.45" stroke="#333" stroke-width="0.7" fill="none" />
<g transform="translate(471.5 617.5) scale(1.0) translate(-471.5 -617.5)">
<path d="M 456.5 609.5 L 471.5 607.5 L 471.5 627 L 456.5 625 Z" stroke="none" stroke-width="0.001" fill="#fff" />
<path d="M 455 610 L 466.5 608.75 M 455.5 612.25 L 464.5 621 M 455.5 621 L 466 611.5 M 456.5 624.5 L 465 625" stroke="#1c1c1c" stroke-width="0.8" fill="none" />
<ellipse cx="471.5" cy="617.5" rx="14.8" ry="7.25" stroke="#1c1c1c" stroke-width="1.2" fill="#fff" transform="rotate(-76.3 471.5 617.5)"/>
<ellipse cx="472.6" cy="617.75" rx="14" ry="6.86" stroke="#1c1c1c" stroke-width="0.7" fill="#fff" transform="rotate(-76.3 472.6 617.75)"/>
<ellipse cx="474.9" cy="618" rx="13.4" ry="6.7" stroke="#1c1c1c" stroke-width="0.9" fill="#fff" transform="rotate(-76.3 474.9 618)"/>
<ellipse cx="476" cy="618.15" rx="13.1" ry="6.55" stroke="#555" stroke-width="0.6" fill="#fff" transform="rotate(-76.3 476 618.15)"/>
<ellipse cx="478.5" cy="618.25" rx="14.25" ry="7.12" stroke="#1c1c1c" stroke-width="1.0" fill="#fff" transform="rotate(-76.3 478.5 618.25)"/>
<ellipse cx="482.25" cy="618.5" rx="14.25" ry="7.12" stroke="#1c1c1c" stroke-width="1.2" fill="#fff" transform="rotate(-76.3 482.25 618.5)"/>
<ellipse cx="483.1" cy="619" rx="13.1" ry="6.55" stroke="#444" stroke-width="0.6" fill="#fff" transform="rotate(-76.3 483.1 619)"/>
<ellipse cx="484.5" cy="620.75" rx="10" ry="5.2" stroke="#1c1c1c" stroke-width="0.9" fill="#fff" transform="rotate(-76.3 484.5 620.75)"/>
<ellipse cx="485" cy="621.75" rx="8.25" ry="4.29" stroke="#1c1c1c" stroke-width="0.7" fill="#fff" transform="rotate(-76.3 485 621.75)"/>
<ellipse cx="485.6" cy="623" rx="5.75" ry="3.33" stroke="#1c1c1c" stroke-width="1.0" fill="#d9d9d9" transform="rotate(-76.3 485.6 623)"/>
<ellipse cx="485.9" cy="623.1" rx="4" ry="2.32" stroke="#1c1c1c" stroke-width="0.8" fill="#fff" transform="rotate(-76.3 485.9 623.1)"/>
<path d="M 487 621 L 492.6 623 L 492 626.5 L 486.25 625 Z" stroke="none" stroke-width="0.001" fill="#fff" />
<path d="M 487.5 621.25 L 492.6 623.1 M 487 625.25 L 491.75 626.5" stroke="#1c1c1c" stroke-width="0.9" fill="none" />
<ellipse cx="492.25" cy="624.8" rx="1.9" ry="1.14" stroke="#1c1c1c" stroke-width="0.9" fill="#fff" transform="rotate(-76.3 492.25 624.8)"/>
<path d="M 483 620 C 484.25 618.5 487 618.5 488.25 620 M 484.25 625 C 485 626 486.5 626.25 487.5 625.5" stroke="#1c1c1c" stroke-width="1.3" fill="none" />
<path d="M 475.25 630.6 L 476 632.25 M 476.5 625 L 478.5 627.5" stroke="#1c1c1c" stroke-width="0.9" fill="none" />
</g>
<ellipse cx="421.5" cy="588.3" rx="11.6" ry="7.13" stroke="#5a5a5a" stroke-width="0.55" fill="none" transform="rotate(63.44 421.5 588.3)"/>
<ellipse cx="421.5" cy="588.3" rx="10.2" ry="6.12" stroke="#5a5a5a" stroke-width="0.55" fill="none" transform="rotate(63.44 421.5 588.3)"/>
<ellipse cx="422.3" cy="619.2" rx="13.6" ry="8.23" stroke="#5a5a5a" stroke-width="0.55" fill="none" transform="rotate(63.44 422.3 619.2)"/>
<ellipse cx="422.3" cy="619.2" rx="12.2" ry="7.2" stroke="#5a5a5a" stroke-width="0.55" fill="none" transform="rotate(63.44 422.3 619.2)"/>
<path d="M 372.5 664 L 372.5 668.5 C 376 674.5 390 674.5 394.5 668.5 L 394.5 661 Z" stroke="#1c1c1c" stroke-width="0.9" fill="#d4d4d4" />
<path d="M 372.8 666.2 C 376.5 672 390 671.8 394.3 665.5 M 372.8 667.5 C 376.5 673.5 390 673.2 394.3 667" stroke="#777" stroke-width="0.6" fill="none" />
<path d="M 356.55 640.55 L 371.5 627.55 L 398.8 613.9 L 410.5 621.7 L 410.5 631.45 L 420.25 630.67 C 422.2 631.12 422.98 632.75 422.33 636 L 412.45 641.07 L 412.77 645.42 L 410.5 651.6 L 395.55 658.75 L 378.65 666.03 L 361.1 662 Z" stroke="#1c1c1c" stroke-width="1.0" fill="#fff" />
<path d="M 371.5 627.55 L 380.6 632.88 L 406.6 626.25 M 372.15 628.33 L 390.35 618.58 L 398.8 623 L 380.6 632.75 M 380.6 632.88 L 379.95 639.38 L 406.6 626.25 L 406.6 636 M 365 638.6 L 373.45 634.18 M 379.95 639.38 L 365 646.4" stroke="#1c1c1c" stroke-width="0.8" fill="none" />
<path d="M 378 625.6 L 383.85 628.98 M 384.5 624.43 L 389.18 627.55" stroke="#1c1c1c" stroke-width="1.5" fill="none" />
<path d="M 390.35 618.58 L 390.35 621.38 L 397.5 625.6" stroke="#555" stroke-width="0.7" fill="none" />
<path d="M 400.1 618.45 L 400.1 621.38 L 405.3 626.25 L 410.5 623.98 M 405.3 626.25 L 405.3 634.7 M 400.1 621.38 L 395.55 623.65" stroke="#1c1c1c" stroke-width="0.8" fill="none" />
<path d="M 385.8 641.33 L 403.35 633.4 L 403.35 636 L 386.58 643.8 L 385.8 641.33 M 385.8 641.33 L 385.8 656.8" stroke="#1c1c1c" stroke-width="0.8" fill="none" />
<path d="M 387.1 648.48 L 410.5 637.43 L 412.58 638.73 L 411.93 641.33 L 389.18 652.38 L 387.1 651.08 Z" stroke="#1c1c1c" stroke-width="1.0" fill="#fff" />
<path d="M 389.18 652.38 L 411.93 641.33" stroke="#1c1c1c" stroke-width="1.8" fill="none" />
<path d="M 387.75 655.63 L 411.8 644.58 L 412.58 646.4 L 410.5 651.6 L 388.53 657.58 Z" stroke="#1c1c1c" stroke-width="0.9" fill="#fff" />
<path d="M 388.4 657.45 L 410.82 647.05" stroke="#1c1c1c" stroke-width="1.5" fill="none" />
<path d="M 407.25 647.83 L 407.25 652.38 M 409.85 646.4 L 410.5 651.6" stroke="#1c1c1c" stroke-width="0.7" fill="none" />
<path d="M 410.5 636.13 L 420.25 630.8 M 411.93 641.2 L 422.2 636.13" stroke="#1c1c1c" stroke-width="0.9" fill="none" />
<ellipse cx="421.42" cy="633.53" rx="1.04" ry="2.21" stroke="#1c1c1c" stroke-width="0.9" fill="#fff" transform="rotate(18 421.42 633.53)"/>
<path d="M 369.55 653.68 L 387.1 645.23 M 378.65 666.03 L 395.55 658.75" stroke="#1c1c1c" stroke-width="0.9" fill="none" />
<path d="M 368.9 654.85 C 370.85 656.8 372.15 659.4 372.28 662" stroke="#1c1c1c" stroke-width="1.2" fill="none" />
<ellipse cx="374.88" cy="640.94" rx="2.6" ry="2.21" stroke="#1c1c1c" stroke-width="1.7" fill="#fff"/>
<ellipse cx="374.75" cy="641.2" rx="1.17" ry="0.98" stroke="#1c1c1c" stroke-width="1.0" fill="#999"/>
<path d="M 376.38 643.8 L 377.35 647.7" stroke="#666" stroke-width="0.6" fill="none" />
<ellipse cx="375.07" cy="664.27" rx="2.73" ry="2.6" stroke="#1c1c1c" stroke-width="1.7" fill="#fff"/>
<ellipse cx="374.94" cy="664.47" rx="1.17" ry="1.1" stroke="#1c1c1c" stroke-width="1.0" fill="#aaa"/>
<path d="M 364 604.2 L 402 585 L 410 586 C 416 591 418 600 414.5 607.5 L 410 610.2 L 371 629 Z" stroke="none" stroke-width="0.001" fill="#fff" />
<path d="M 363.2 604.6 L 401.2 585.2 M 410 610.2 L 400 614.8" stroke="#1c1c1c" stroke-width="1.0" fill="none" />
<path d="M 400 585 C 408 584 417 592 416.5 601 C 416.2 605 414.5 608 410 610.2" stroke="#1c1c1c" stroke-width="1.1" fill="none" />
<path d="M 405.5 584 C 412 588 414.5 595 413.5 602.5 C 413 605.5 411.5 608 409.5 609.5" stroke="#1c1c1c" stroke-width="1.1" fill="none" />
<path d="M 355 607.2 L 361.5 605 C 366.5 606.5 371 614 371.8 622 C 372 626 371.2 629 369.5 631.2 L 364 633.5 Z" stroke="#1c1c1c" stroke-width="1.0" fill="#fff" />
<ellipse cx="358.9" cy="620" rx="14.2" ry="9.16" stroke="#1c1c1c" stroke-width="1.5" fill="#fff" transform="rotate(63.44 358.9 620)"/>
<ellipse cx="359.7" cy="619.8" rx="12.4" ry="7.81" stroke="#555" stroke-width="0.6" fill="#e9e9e9" transform="rotate(63.44 359.7 619.8)"/>
<ellipse cx="361.1" cy="619.2" rx="10.4" ry="6.24" stroke="#1c1c1c" stroke-width="1.0" fill="#fff" transform="rotate(63.44 361.1 619.2)"/>
<path d="M 357 620.55 L 365 616.55" stroke="#444" stroke-width="0.7" fill="none" stroke-linecap="butt" stroke-dasharray="7 2 1.5 2"/>
<path d="M 358.6 630.25 C 356.6 630.01 355 631.05 354.84 632.89 C 352.6 634.25 350.2 636.25 349.4 639.45 C 348.2 644.25 348.6 649.05 350.6 653.85 C 352.2 657.85 354.6 660.65 356.6 661.85 C 355.4 663.85 355.64 667.05 356.76 669.05 C 357.8 670.81 360.2 671.05 362.04 669.69 C 363.4 668.41 363.8 666.65 363.4 664.89 C 366.2 663.05 369 659.85 370.04 655.45 C 370.6 651.05 369.4 646.25 367 642.25 C 365.8 639.85 364.2 637.85 362.52 635.45 C 362.6 633.05 361 630.65 358.6 630.25 Z" stroke="#1c1c1c" stroke-width="1.4" fill="#fff" />
<path d="M 355.8 635.45 C 353.4 636.65 351.4 639.45 351 643.45 C 350.6 648.25 352.2 653.85 355.4 657.85 C 357.4 660.25 359.8 661.45 362.36 661.05 C 365.4 660.25 368.2 657.05 368.6 653.05 C 369 648.25 367 642.65 363.4 638.65 C 361.4 636.65 358.6 634.65 355.8 635.45 Z" stroke="#444" stroke-width="0.7" fill="none" />
<ellipse cx="360.2" cy="650.25" rx="11.6" ry="6.96" stroke="#1c1c1c" stroke-width="1.1" fill="#fff" transform="rotate(63.44 360.2 650.25)"/>
<ellipse cx="360.6" cy="650.25" rx="10" ry="6" stroke="#555" stroke-width="0.6" fill="#ededed" transform="rotate(63.44 360.6 650.25)"/>
<ellipse cx="361.6" cy="649.75" rx="8.4" ry="4.87" stroke="#555" stroke-width="0.7" fill="#fff" transform="rotate(63.44 361.6 649.75)"/>
<ellipse cx="358.68" cy="633.21" rx="1.7" ry="1.05" stroke="#1c1c1c" stroke-width="0.8" fill="none" transform="rotate(63.44 358.68 633.21)"/>
<ellipse cx="359.48" cy="667.05" rx="1.8" ry="1.12" stroke="#1c1c1c" stroke-width="0.8" fill="none" transform="rotate(63.44 359.48 667.05)"/>
<path d="M 357.7 651.5 L 365.2 647.75" stroke="#444" stroke-width="0.7" fill="none" stroke-linecap="butt" stroke-dasharray="7 2 1.5 2"/>
<path d="M 346 649 C 344 647.5 342.5 645 343.5 643.5 C 345 642 347.5 643 349.5 645" stroke="#1c1c1c" stroke-width="1.1" fill="#fff" />
<ellipse cx="345.5" cy="645" rx="0.8" ry="1" stroke="#1c1c1c" stroke-width="0.8" fill="none"/>
<ellipse cx="341.5" cy="628.3" rx="11.6" ry="7.13" stroke="#5a5a5a" stroke-width="0.55" fill="none" transform="rotate(63.44 341.5 628.3)"/>
<ellipse cx="341.5" cy="628.3" rx="10.2" ry="6.12" stroke="#5a5a5a" stroke-width="0.55" fill="none" transform="rotate(63.44 341.5 628.3)"/>
<ellipse cx="344" cy="658.35" rx="13.6" ry="8.23" stroke="#5a5a5a" stroke-width="0.55" fill="none" transform="rotate(63.44 344 658.35)"/>
<ellipse cx="344" cy="658.35" rx="12.2" ry="7.2" stroke="#5a5a5a" stroke-width="0.55" fill="none" transform="rotate(63.44 344 658.35)"/>
<path d="M 323.5 682.5 L 334.5 678 L 343 680 L 343 694 L 332 699.5 L 323.5 696 Z" stroke="#1c1c1c" stroke-width="0.9" fill="#fff" />
<path d="M 323.5 682.5 L 332 686 L 343 680 M 332 686 L 332 699.5" stroke="#1c1c1c" stroke-width="0.8" fill="none" />
<path d="M 333.5 687.5 L 341.5 683.5 L 341.5 693 L 333.5 697 Z M 336 686.2 L 336 695.8 M 339 684.8 L 339 694.2 M 333.5 691 L 341.5 687 M 333.5 694 L 341.5 690" stroke="#1c1c1c" stroke-width="0.7" fill="none" />
<path d="M 310 698 L 322 692.2 L 322 687 L 314 686 L 310 690 Z" stroke="none" stroke-width="0.001" fill="#fff" />
<path d="M 301.5 702 L 322 692.2 M 314.5 687 L 323.5 690" stroke="#1c1c1c" stroke-width="0.9" fill="none" />
<path d="M 295 639 L 309 632.8 L 309 662 L 304 664 Z" stroke="none" stroke-width="0.001" fill="#fff" />
<path d="M 295.5 638.8 L 304 634 L 308.5 633.2" stroke="#1c1c1c" stroke-width="0.9" fill="none" />
<path d="M 307.5 631.5 L 307.5 674 C 310 680.5 332 680.5 335 674 L 335 631.5 Z" stroke="#1c1c1c" stroke-width="1.0" fill="#fff" />
<path d="M 307.5 671.2 C 310 678 332 678 335 671.2" stroke="#777" stroke-width="0.6" fill="none" />
<ellipse cx="321.2" cy="631.2" rx="13.7" ry="6.6" stroke="#1c1c1c" stroke-width="1.0" fill="#fff"/>
<ellipse cx="321.2" cy="630.5" rx="12" ry="5.6" stroke="#444" stroke-width="0.7" fill="none"/>
<path d="M 309 634 C 312 639.2 331 639.2 333.7 634" stroke="#555" stroke-width="0.7" fill="none" />
<path d="M 313 625 L 317.8 621.6 L 327 621.2 L 330 624.8 L 330 627.5 L 325.5 631.2 L 316 631.2 L 313 627.8 Z" stroke="#1c1c1c" stroke-width="0.9" fill="#fff" />
<path d="M 313 625 L 316.2 628.8 L 325.5 628.8 L 330 624.8 M 316.2 628.8 L 316 631.2 M 325.5 628.8 L 325.5 631.2" stroke="#1c1c1c" stroke-width="0.8" fill="none" />
<ellipse cx="302.1" cy="648" rx="12.6" ry="8.13" stroke="#1c1c1c" stroke-width="0.9" fill="#fff" transform="rotate(63.44 302.1 648)"/>
<path d="M 292.69 638.17 L 296.29 636.37 L 307.91 659.63 L 304.31 661.43 Z" stroke="none" stroke-width="0.001" fill="#fff" />
<line x1="292.69" y1="638.17" x2="296.29" y2="636.37" stroke="#1c1c1c" stroke-width="0.9" />
<ellipse cx="298.5" cy="649.8" rx="13" ry="8.38" stroke="#1c1c1c" stroke-width="1.5" fill="#fff" transform="rotate(63.44 298.5 649.8)"/>
<ellipse cx="299" cy="649.6" rx="11.6" ry="7.31" stroke="#555" stroke-width="0.6" fill="#e9e9e9" transform="rotate(63.44 299 649.6)"/>
<ellipse cx="300.2" cy="649" rx="9.9" ry="5.94" stroke="#1c1c1c" stroke-width="0.9" fill="#fff" transform="rotate(63.44 300.2 649)"/>
<path d="M 296 651.05 L 304 647.05" stroke="#444" stroke-width="0.7" fill="none" stroke-linecap="butt" stroke-dasharray="7 2 1.5 2"/>
<path d="M 298 660.55 C 296 660.31 294.4 661.35 294.24 663.19 C 292 664.55 289.6 666.55 288.8 669.75 C 287.6 674.55 288 679.35 290 684.15 C 291.6 688.15 294 690.95 296 692.15 C 294.8 694.15 295.04 697.35 296.16 699.35 C 297.2 701.11 299.6 701.35 301.44 699.99 C 302.8 698.71 303.2 696.95 302.8 695.19 C 305.6 693.35 308.4 690.15 309.44 685.75 C 310 681.35 308.8 676.55 306.4 672.55 C 305.2 670.15 303.6 668.15 301.92 665.75 C 302 663.35 300.4 660.95 298 660.55 Z" stroke="#1c1c1c" stroke-width="1.4" fill="#fff" />
<path d="M 295.2 665.75 C 292.8 666.95 290.8 669.75 290.4 673.75 C 290 678.55 291.6 684.15 294.8 688.15 C 296.8 690.55 299.2 691.75 301.76 691.35 C 304.8 690.55 307.6 687.35 308 683.35 C 308.4 678.55 306.4 672.95 302.8 668.95 C 300.8 666.95 298 664.95 295.2 665.75 Z" stroke="#444" stroke-width="0.7" fill="none" />
<ellipse cx="299.6" cy="680.55" rx="11.6" ry="6.96" stroke="#1c1c1c" stroke-width="1.1" fill="#fff" transform="rotate(63.44 299.6 680.55)"/>
<ellipse cx="300" cy="680.55" rx="10" ry="6" stroke="#555" stroke-width="0.6" fill="#ededed" transform="rotate(63.44 300 680.55)"/>
<ellipse cx="301" cy="680.05" rx="8.4" ry="4.87" stroke="#555" stroke-width="0.7" fill="#fff" transform="rotate(63.44 301 680.05)"/>
<ellipse cx="298.08" cy="663.51" rx="1.7" ry="1.05" stroke="#1c1c1c" stroke-width="0.8" fill="none" transform="rotate(63.44 298.08 663.51)"/>
<ellipse cx="298.88" cy="697.35" rx="1.8" ry="1.12" stroke="#1c1c1c" stroke-width="0.8" fill="none" transform="rotate(63.44 298.88 697.35)"/>
<path d="M 297.1 681.8 L 304.6 678.05" stroke="#444" stroke-width="0.7" fill="none" stroke-linecap="butt" stroke-dasharray="7 2 1.5 2"/>
<ellipse cx="280.6" cy="658.75" rx="11.6" ry="7.13" stroke="#5a5a5a" stroke-width="0.55" fill="none" transform="rotate(63.44 280.6 658.75)"/>
<ellipse cx="280.6" cy="658.75" rx="10.2" ry="6.12" stroke="#5a5a5a" stroke-width="0.55" fill="none" transform="rotate(63.44 280.6 658.75)"/>
<ellipse cx="282.2" cy="689.25" rx="13.6" ry="8.23" stroke="#5a5a5a" stroke-width="0.55" fill="none" transform="rotate(63.44 282.2 689.25)"/>
<ellipse cx="282.2" cy="689.25" rx="12.2" ry="7.2" stroke="#5a5a5a" stroke-width="0.55" fill="none" transform="rotate(63.44 282.2 689.25)"/>
<path d="M 193.2 671 C 192 662 193 652 198 642 C 201.5 637.5 208 635.5 214.5 635.8" stroke="#1c1c1c" stroke-width="1.2" fill="none" />
<path d="M 196.2 670 C 195 662 195.5 654 200 644.5 C 202 641.5 204.5 640 206.5 639.5" stroke="#1c1c1c" stroke-width="0.8" fill="none" />
<path d="M 192.8 670.2 L 203 672.2 M 193.2 671.5 L 198 672.5 L 198.2 666 M 201 668.5 L 201 652 M 198.2 666 L 198.2 650" stroke="#1c1c1c" stroke-width="0.8" fill="none" />
<path d="M 195 676 L 205 671 L 205 706 C 202 708.5 197 707 195 704 Z" stroke="#1c1c1c" stroke-width="0.9" fill="#fff" />
<path d="M 198.5 674.5 L 198.5 706" stroke="#1c1c1c" stroke-width="0.7" fill="none" />
<ellipse cx="200.2" cy="687" rx="1.2" ry="0.9" stroke="#1c1c1c" stroke-width="0.9" fill="none" transform="rotate(-30 200.2 687)"/>
<path d="M 205.5 710 L 205.5 718 C 207.5 720 213 720 215 718 L 215 710 Z" stroke="#1c1c1c" stroke-width="0.9" fill="#fff" />
<path d="M 207.5 719.5 L 209.5 723.5 L 212 723.5 L 213.5 719.2" stroke="#1c1c1c" stroke-width="0.8" fill="none" />
<path d="M 205 650 L 205 715 L 220 715 L 220 655 Z" stroke="none" stroke-width="0.001" fill="#fff" />
<path d="M 205 650 L 205 715 M 214 658 L 214 715 M 220 657 L 220 714" stroke="#1c1c1c" stroke-width="0.9" fill="none" />
<path d="M 215 658.5 L 215 714" stroke="#666" stroke-width="0.6" fill="none" />
<path d="M 205 714 C 208 716.5 217 716.5 220 714" stroke="#1c1c1c" stroke-width="0.8" fill="none" />
<path d="M 220 674 L 220 714 L 232 735 L 250 726.5 L 250 706 L 261 702 L 279 706 L 275 694 L 268 682 L 239 680 Z" stroke="none" stroke-width="0.001" fill="#fff" />
<path d="M 232 735.2 L 250 726.5" stroke="#1c1c1c" stroke-width="1.6" fill="none" />
<path d="M 242 695 L 248 694 L 248 727 M 242 695 L 242 702 M 242 695 L 237 698" stroke="#1c1c1c" stroke-width="0.8" fill="none" />
<path d="M 268 682.2 C 271 688 275 694 276.5 698 M 245 693 C 250 695 257 693 260 685" stroke="#1c1c1c" stroke-width="1.0" fill="none" />
<path d="M 250.5 697 L 255 693 L 264 692 L 265 700 L 255 704 Z" stroke="#1c1c1c" stroke-width="0.8" fill="#fff" />
<path d="M 254 694.5 L 255.5 700 M 256.5 693.8 L 258 699.2 M 259 693.2 L 260.5 698.5 M 261.5 692.8 L 263 697.8" stroke="#1c1c1c" stroke-width="1.2" fill="none" />
<path d="M 205 650 L 229 660 L 259.5 642 L 273.5 667.5 L 273 675 L 268 680.5 L 259 685.2 C 258 689 254 692 249 692.2 L 237 698 L 220 680 L 220 657 Z" stroke="none" stroke-width="0.001" fill="#fff" />
<path d="M 205 650 L 229 660 L 259.5 642 M 229 660 L 238.5 679 L 241 680 L 271 668.5 C 273.5 667.2 274 666 273 664.5 L 259.5 642" stroke="#1c1c1c" stroke-width="1.0" fill="none" />
<path d="M 273.5 667.5 L 273.2 674.8 C 272 679 265 683 259.2 685.2 C 258 689 254 692 249 692.2 M 259.2 685.2 C 255 687 249 687 245 684.5" stroke="#1c1c1c" stroke-width="1.0" fill="none" />
<path d="M 220 657 L 229 662 L 229 670 L 220.5 674.2 M 229 662 L 229 660" stroke="#1c1c1c" stroke-width="0.9" fill="none" />
<path d="M 205 650 L 210 647 M 259.5 642 L 255 639.5" stroke="#1c1c1c" stroke-width="0.9" fill="none" />
<ellipse cx="230.5" cy="636.5" rx="18.8" ry="8.8" stroke="#1c1c1c" stroke-width="1.0" fill="#fff" transform="rotate(8 230.5 636.5)"/>
<path d="M 219 640 L 219 649.5 L 229 653 L 241 650 L 241 642" stroke="#1c1c1c" stroke-width="0.9" fill="#fff" />
<ellipse cx="230.5" cy="635.8" rx="17" ry="7.6" stroke="#444" stroke-width="0.7" fill="none" transform="rotate(8 230.5 635.8)"/>
<path d="M 245.7 638.5 L 245.7 642 L 249 644 L 253.5 643.5 L 255.3 641 L 255.3 637.8 Z" stroke="#1c1c1c" stroke-width="0.9" fill="#fff" />
<ellipse cx="250.5" cy="638.5" rx="4.8" ry="2.4" stroke="#1c1c1c" stroke-width="0.9" fill="#fff"/>
<path d="M 249 640.8 L 249 644 M 253.5 640.4 L 253.5 643.5" stroke="#1c1c1c" stroke-width="0.7" fill="none" />
<path d="M 248 638 L 248 635 C 249.5 633.5 252 633.5 253 635 L 253 638 Z" stroke="#1c1c1c" stroke-width="0.9" fill="#fff" />
<ellipse cx="250.5" cy="636.8" rx="2.5" ry="1.1" stroke="#1c1c1c" stroke-width="0.7" fill="none"/>
<path d="M 205.2 643.5 L 205.2 647 L 208.5 649 L 213 648.5 L 214.8 646 L 214.8 642.8 Z" stroke="#1c1c1c" stroke-width="0.9" fill="#fff" />
<ellipse cx="210" cy="643.5" rx="4.8" ry="2.4" stroke="#1c1c1c" stroke-width="0.9" fill="#fff"/>
<path d="M 208.5 645.8 L 208.5 649 M 213 645.4 L 213 648.5" stroke="#1c1c1c" stroke-width="0.7" fill="none" />
<path d="M 207.5 643 L 207.5 640 C 209 638.5 211.5 638.5 212.5 640 L 212.5 643 Z" stroke="#1c1c1c" stroke-width="0.9" fill="#fff" />
<ellipse cx="210" cy="641.8" rx="2.5" ry="1.1" stroke="#1c1c1c" stroke-width="0.7" fill="none"/>
<path d="M 220 629 L 220 636.2 L 229 639.2 L 239 638.2 L 242.7 635 L 242.7 629 Z" stroke="#1c1c1c" stroke-width="0.9" fill="#fff" />
<path d="M 229 632.5 L 229 639.2 M 239 632 L 239 638.2" stroke="#1c1c1c" stroke-width="0.8" fill="none" />
<path d="M 215 637 L 229 643 L 232 641.8 M 218 635 L 228 640" stroke="#1c1c1c" stroke-width="1.3" fill="none" />
<path d="M 217.5 623.5 L 218 628.8 C 223 634.5 239 634.5 244.2 629 L 244.5 623.5 Z" stroke="#1c1c1c" stroke-width="1.0" fill="#fff" />
<ellipse cx="231" cy="623.5" rx="13.6" ry="6.8" stroke="#1c1c1c" stroke-width="1.1" fill="#fff"/>
<ellipse cx="231" cy="623" rx="11.2" ry="5.4" stroke="#1c1c1c" stroke-width="0.8" fill="none"/>
<ellipse cx="231" cy="622.8" rx="8" ry="3.8" stroke="#1c1c1c" stroke-width="1.6" fill="none"/>
<ellipse cx="231.2" cy="622.8" rx="5.2" ry="2.4" stroke="#1c1c1c" stroke-width="0.8" fill="none"/>
<path d="M 228 623 C 229 621.2 233 621.2 234 622.8 C 234.2 624 232 624.5 230.5 623.8" stroke="#1c1c1c" stroke-width="0.9" fill="none" />
<path d="M 218 626 C 223 632 239 632 244.2 626.2" stroke="#444" stroke-width="0.7" fill="none" />
<path d="M 220.2 649.5 L 220.2 653 L 223.5 655 L 228 654.5 L 229.8 652 L 229.8 648.8 Z" stroke="#1c1c1c" stroke-width="0.9" fill="#fff" />
<ellipse cx="225" cy="649.5" rx="4.8" ry="2.4" stroke="#1c1c1c" stroke-width="0.9" fill="#fff"/>
<path d="M 223.5 651.8 L 223.5 655 M 228 651.4 L 228 654.5" stroke="#1c1c1c" stroke-width="0.7" fill="none" />
<path d="M 222.5 649 L 222.5 646 C 224 644.5 226.5 644.5 227.5 646 L 227.5 649 Z" stroke="#1c1c1c" stroke-width="0.9" fill="#fff" />
<ellipse cx="225" cy="647.8" rx="2.5" ry="1.1" stroke="#1c1c1c" stroke-width="0.7" fill="none"/>
<path d="M 220.5 674.2 L 229 670 L 241 680 L 237 698 Z" stroke="none" stroke-width="0.001" fill="#fff" />
<ellipse cx="231.3" cy="683.4" rx="12.6" ry="8.13" stroke="#1c1c1c" stroke-width="0.9" fill="#fff" transform="rotate(63.44 231.3 683.4)"/>
<path d="M 221.89 673.57 L 225.49 671.77 L 237.11 695.03 L 233.51 696.83 Z" stroke="none" stroke-width="0.001" fill="#fff" />
<line x1="221.89" y1="673.57" x2="225.49" y2="671.77" stroke="#1c1c1c" stroke-width="0.9" />
<ellipse cx="227.7" cy="685.2" rx="13" ry="8.38" stroke="#1c1c1c" stroke-width="1.5" fill="#fff" transform="rotate(63.44 227.7 685.2)"/>
<ellipse cx="228.2" cy="685" rx="11.6" ry="7.31" stroke="#555" stroke-width="0.6" fill="#e9e9e9" transform="rotate(63.44 228.2 685)"/>
<ellipse cx="229.4" cy="684.4" rx="9.9" ry="5.94" stroke="#1c1c1c" stroke-width="0.9" fill="#fff" transform="rotate(63.44 229.4 684.4)"/>
<path d="M 225.2 686.45 L 233.2 682.45" stroke="#444" stroke-width="0.7" fill="none" stroke-linecap="butt" stroke-dasharray="7 2 1.5 2"/>
<path d="M 226.6 696.25 C 224.6 696.01 223 697.05 222.84 698.89 C 220.6 700.25 218.2 702.25 217.4 705.45 C 216.2 710.25 216.6 715.05 218.6 719.85 C 220.2 723.85 222.6 726.65 224.6 727.85 C 223.4 729.85 223.64 733.05 224.76 735.05 C 225.8 736.81 228.2 737.05 230.04 735.69 C 231.4 734.41 231.8 732.65 231.4 730.89 C 234.2 729.05 237 725.85 238.04 721.45 C 238.6 717.05 237.4 712.25 235 708.25 C 233.8 705.85 232.2 703.85 230.52 701.45 C 230.6 699.05 229 696.65 226.6 696.25 Z" stroke="#1c1c1c" stroke-width="1.4" fill="#fff" />
<path d="M 223.8 701.45 C 221.4 702.65 219.4 705.45 219 709.45 C 218.6 714.25 220.2 719.85 223.4 723.85 C 225.4 726.25 227.8 727.45 230.36 727.05 C 233.4 726.25 236.2 723.05 236.6 719.05 C 237 714.25 235 708.65 231.4 704.65 C 229.4 702.65 226.6 700.65 223.8 701.45 Z" stroke="#444" stroke-width="0.7" fill="none" />
<ellipse cx="228.2" cy="716.25" rx="11.6" ry="6.96" stroke="#1c1c1c" stroke-width="1.1" fill="#fff" transform="rotate(63.44 228.2 716.25)"/>
<ellipse cx="228.6" cy="716.25" rx="10" ry="6" stroke="#555" stroke-width="0.6" fill="#ededed" transform="rotate(63.44 228.6 716.25)"/>
<ellipse cx="229.6" cy="715.75" rx="8.4" ry="4.87" stroke="#555" stroke-width="0.7" fill="#fff" transform="rotate(63.44 229.6 715.75)"/>
<ellipse cx="226.68" cy="699.21" rx="1.7" ry="1.05" stroke="#1c1c1c" stroke-width="0.8" fill="none" transform="rotate(63.44 226.68 699.21)"/>
<ellipse cx="227.48" cy="733.05" rx="1.8" ry="1.12" stroke="#1c1c1c" stroke-width="0.8" fill="none" transform="rotate(63.44 227.48 733.05)"/>
<path d="M 225.7 717.5 L 233.2 713.75" stroke="#444" stroke-width="0.7" fill="none" stroke-linecap="butt" stroke-dasharray="7 2 1.5 2"/>
<ellipse cx="227.2" cy="701.2" rx="2.6" ry="1.82" stroke="#1c1c1c" stroke-width="1.6" fill="#fff" transform="rotate(63.44 227.2 701.2)"/>
<g transform="translate(259.1 714.3) scale(1.13) translate(-471.5 -617.5)">
<ellipse cx="471.5" cy="617.5" rx="14.8" ry="7.25" stroke="#1c1c1c" stroke-width="1.2" fill="#fff" transform="rotate(-76.3 471.5 617.5)"/>
<ellipse cx="472.6" cy="617.75" rx="14" ry="6.86" stroke="#1c1c1c" stroke-width="0.7" fill="#fff" transform="rotate(-76.3 472.6 617.75)"/>
<ellipse cx="474.9" cy="618" rx="13.4" ry="6.7" stroke="#1c1c1c" stroke-width="0.9" fill="#fff" transform="rotate(-76.3 474.9 618)"/>
<ellipse cx="476" cy="618.15" rx="13.1" ry="6.55" stroke="#555" stroke-width="0.6" fill="#fff" transform="rotate(-76.3 476 618.15)"/>
<ellipse cx="478.5" cy="618.25" rx="14.25" ry="7.12" stroke="#1c1c1c" stroke-width="1.0" fill="#fff" transform="rotate(-76.3 478.5 618.25)"/>
<ellipse cx="482.25" cy="618.5" rx="14.25" ry="7.12" stroke="#1c1c1c" stroke-width="1.2" fill="#fff" transform="rotate(-76.3 482.25 618.5)"/>
<ellipse cx="483.1" cy="619" rx="13.1" ry="6.55" stroke="#444" stroke-width="0.6" fill="#fff" transform="rotate(-76.3 483.1 619)"/>
<ellipse cx="484.5" cy="620.75" rx="10" ry="5.2" stroke="#1c1c1c" stroke-width="0.9" fill="#fff" transform="rotate(-76.3 484.5 620.75)"/>
<ellipse cx="485" cy="621.75" rx="8.25" ry="4.29" stroke="#1c1c1c" stroke-width="0.7" fill="#fff" transform="rotate(-76.3 485 621.75)"/>
<ellipse cx="485.6" cy="623" rx="5.75" ry="3.33" stroke="#1c1c1c" stroke-width="1.0" fill="#d9d9d9" transform="rotate(-76.3 485.6 623)"/>
<ellipse cx="485.9" cy="623.1" rx="4" ry="2.32" stroke="#1c1c1c" stroke-width="0.8" fill="#fff" transform="rotate(-76.3 485.9 623.1)"/>
<path d="M 487 621 L 492.6 623 L 492 626.5 L 486.25 625 Z" stroke="none" stroke-width="0.001" fill="#fff" />
<path d="M 487.5 621.25 L 492.6 623.1 M 487 625.25 L 491.75 626.5" stroke="#1c1c1c" stroke-width="0.9" fill="none" />
<ellipse cx="492.25" cy="624.8" rx="1.9" ry="1.14" stroke="#1c1c1c" stroke-width="0.9" fill="#fff" transform="rotate(-76.3 492.25 624.8)"/>
<path d="M 483 620 C 484.25 618.5 487 618.5 488.25 620 M 484.25 625 C 485 626 486.5 626.25 487.5 625.5" stroke="#1c1c1c" stroke-width="1.3" fill="none" />
<path d="M 475.25 630.6 L 476 632.25 M 476.5 625 L 478.5 627.5" stroke="#1c1c1c" stroke-width="0.9" fill="none" />
</g>
<ellipse cx="195.6" cy="701.25" rx="11.6" ry="7.13" stroke="#5a5a5a" stroke-width="0.55" fill="none" transform="rotate(63.44 195.6 701.25)"/>
<ellipse cx="195.6" cy="701.25" rx="10.2" ry="6.12" stroke="#5a5a5a" stroke-width="0.55" fill="none" transform="rotate(63.44 195.6 701.25)"/>
<ellipse cx="198" cy="731.35" rx="13.6" ry="8.23" stroke="#5a5a5a" stroke-width="0.55" fill="none" transform="rotate(63.44 198 731.35)"/>
<ellipse cx="198" cy="731.35" rx="12.2" ry="7.2" stroke="#5a5a5a" stroke-width="0.55" fill="none" transform="rotate(63.44 198 731.35)"/>
<path d="M 174 696.5 C 171.5 698 169.5 700 169 704 L 168.6 715 L 169.6 729 C 168 732 167.2 735 167.4 739 L 168 745 C 168.5 747.5 170 749 172 750.2 L 172.5 755 C 172.5 759 174.5 762 177.5 762.5 L 182.5 761.2 C 184.5 760.5 185.5 758.5 184.8 755.8 L 188.5 754 C 191.5 752 193.2 749 192.8 744 L 191.5 723 L 190.5 711 C 190 705 187 699 183 696.8 C 180 695.5 176.5 695.5 174 696.5 Z" stroke="#1c1c1c" stroke-width="1.6" fill="#fff" />
<path d="M 176.2 696.2 C 181 697.5 185 703 186.2 709 L 187.2 718 L 188.5 735 L 189.5 745 C 189.5 749 187.5 752 184.5 755" stroke="#1c1c1c" stroke-width="1.1" fill="none" />
<path d="M 171.2 706.5 L 175.5 702.8 L 183.2 705 L 183.8 715 L 180 719.5 L 172.2 717.2 Z" stroke="#1c1c1c" stroke-width="1.2" fill="none" />
<path d="M 183.2 705 L 186.2 709 M 183.8 715 L 187.2 718 M 180 719.5 L 183 723 L 187.2 718" stroke="#1c1c1c" stroke-width="0.8" fill="none" />
<ellipse cx="176.2" cy="711.2" rx="3.4" ry="2.2" stroke="#1c1c1c" stroke-width="1.4" fill="none" transform="rotate(63.44 176.2 711.2)"/>
<ellipse cx="176.4" cy="711.2" rx="1.8" ry="1.1" stroke="#1c1c1c" stroke-width="0.8" fill="none" transform="rotate(63.44 176.4 711.2)"/>
<path d="M 171.2 718.5 L 172.2 729 M 172.2 717.2 L 173.2 724.5 M 169.6 729 L 168.6 715" stroke="#1c1c1c" stroke-width="2.0" fill="none" />
<ellipse cx="176.2" cy="726" rx="2.4" ry="1.6" stroke="#1c1c1c" stroke-width="1.3" fill="none" transform="rotate(63.44 176.2 726)"/>
<ellipse cx="176.4" cy="726" rx="1.2" ry="0.8" stroke="#1c1c1c" stroke-width="0.8" fill="none" transform="rotate(63.44 176.4 726)"/>
<path d="M 173.2 724.5 C 176 722 180 723 181 727 L 180 731" stroke="#1c1c1c" stroke-width="0.8" fill="none" />
<path d="M 169.2 733.2 L 180 732 L 187.2 739.5 L 187.2 749 L 183.5 753.2 L 173.2 749 L 168.6 744 Z" stroke="#1c1c1c" stroke-width="1.3" fill="none" />
<path d="M 170.5 734.8 L 179.5 733.8 L 185.5 740 L 185.5 748.2 L 182.8 751.2 L 174 747.5 L 170 743.2 Z" stroke="#1c1c1c" stroke-width="0.9" fill="none" />
<path d="M 176.2 742.5 L 170.5 734.8 M 176.2 742.5 L 179.5 733.8 M 176.2 742.5 L 185.5 740 M 176.2 742.5 L 185.5 748.2 M 176.2 742.5 L 174 747.5 M 176.2 742.5 L 170 743.2 M 176.2 742.5 L 182.8 751.2" stroke="#1c1c1c" stroke-width="0.9" fill="none" />
<ellipse cx="176.2" cy="742.5" rx="0.9" ry="0.6" stroke="#1c1c1c" stroke-width="1.2" fill="none" transform="rotate(63.44 176.2 742.5)"/>
<path d="M 180 754 L 185 757 L 184.5 759.5" stroke="#1c1c1c" stroke-width="0.8" fill="none" />
<ellipse cx="176.5" cy="757.5" rx="3" ry="2" stroke="#1c1c1c" stroke-width="1.4" fill="#fff" transform="rotate(63.44 176.5 757.5)"/>
<ellipse cx="176.7" cy="757.5" rx="1.4" ry="0.9" stroke="#1c1c1c" stroke-width="0.8" fill="none" transform="rotate(63.44 176.7 757.5)"/>
<path d="M 344 692.8 L 351.8 697 L 273.2 742 L 312.8 762.64" stroke="#444" stroke-width="0.7" fill="none" stroke-linecap="butt" stroke-dasharray="9 2 1.5 2"/>
<ellipse cx="306.2" cy="759.4" rx="6" ry="3.96" stroke="#444" stroke-width="0.6" fill="#fff" transform="rotate(-63.44 306.2 759.4)"/>
<ellipse cx="306.2" cy="759.4" rx="4.6" ry="2.85" stroke="#444" stroke-width="0.6" fill="#fff" transform="rotate(-63.44 306.2 759.4)"/>
<path d="M 312.8 762.4 L 316.4 759.4 L 322.4 761.2 L 322.4 770.8 L 316.4 772 L 312.8 768.4 Z" stroke="none" stroke-width="0.001" fill="#fff" />
<ellipse cx="314.96" cy="765.4" rx="5.04" ry="3.12" stroke="#1c1c1c" stroke-width="0.9" fill="#fff" transform="rotate(-63.44 314.96 765.4)"/>
<ellipse cx="316.4" cy="766" rx="5.28" ry="3.27" stroke="#1c1c1c" stroke-width="0.9" fill="#fff" transform="rotate(-63.44 316.4 766)"/>
<ellipse cx="318.08" cy="766.72" rx="5.04" ry="3.12" stroke="#1c1c1c" stroke-width="0.9" fill="#fff" transform="rotate(-63.44 318.08 766.72)"/>
<ellipse cx="319.52" cy="767.44" rx="5.52" ry="3.42" stroke="#1c1c1c" stroke-width="1.0" fill="#fff" transform="rotate(-63.44 319.52 767.44)"/>
<path d="M 320 762.4 L 325.4 759.4 L 330.8 761.8 L 332.6 766 L 332 772 L 327.2 776.2 L 322.4 774.4 L 320 770.8 Z" stroke="#1c1c1c" stroke-width="1.0" fill="#fff" />
<path d="M 320 762.4 L 324.8 764.8 L 330.8 761.8 M 324.8 764.8 L 325.4 775.6 M 327.2 766 C 329 764.8 330.8 766 330.8 768.4 L 330.56 772" stroke="#1c1c1c" stroke-width="0.8" fill="none" />
<path d="M 382 678 L 382 808" stroke="#555" stroke-width="0.6" fill="none" stroke-linecap="butt" stroke-dasharray="12 2 1.5 2"/>
<ellipse cx="382.2" cy="700" rx="8.2" ry="4.51" stroke="#444" stroke-width="0.55" fill="none"/>
<ellipse cx="382.2" cy="700" rx="6.8" ry="3.54" stroke="#444" stroke-width="0.55" fill="none"/>
<path d="M 374 720 L 374 744 L 390.5 744 L 390.5 720 C 390 714 386 712 382 711.8 C 378 711.6 375 714 374 720 Z" stroke="#1c1c1c" stroke-width="0.9" fill="#fff" />
<path d="M 377 713 C 376.2 716 376.2 719 377 720 L 381 722 L 381.5 735 L 390 730 M 381 722 C 382 718 386 715 389.5 716.5 M 379 714.5 C 378.6 716.5 378.8 718.5 379.8 719.2 C 381.2 718.5 382 716.5 384.5 715" stroke="#1c1c1c" stroke-width="0.9" fill="none" />
<ellipse cx="385.3" cy="726.5" rx="2" ry="2.7" stroke="#1c1c1c" stroke-width="0.9" fill="none" transform="rotate(25 385.3 726.5)"/>
<path d="M 383.5 727.8 L 387.2 725.2" stroke="#1c1c1c" stroke-width="0.8" fill="none" />
<path d="M 372 745 L 372 749 L 374 750.5 L 374 754 C 377 758.5 388 758.5 391 754 L 391 750.5 L 392.2 749 L 392.2 745 Z" stroke="#1c1c1c" stroke-width="0.9" fill="#fff" />
<ellipse cx="382.1" cy="745.2" rx="10.1" ry="3.5" stroke="#1c1c1c" stroke-width="0.9" fill="#fff"/>
<path d="M 372 748.8 C 375 753.5 389 753.5 392.2 748.8 M 374 750.8 C 377 755 388 755 391 750.8" stroke="#1c1c1c" stroke-width="0.8" fill="none" />
<path d="M 366 769.6 L 366 780 L 372.4 784.8 L 380.4 787.2 L 391.6 785.6 L 398 780 L 398 769.6 Z" stroke="#1c1c1c" stroke-width="1.0" fill="#fff" />
<path d="M 372.4 776 L 372.4 784.8 M 380.4 777.6 L 380.4 787.2 M 391.6 776.48 L 391.6 785.6" stroke="#1c1c1c" stroke-width="0.8" fill="none" />
<ellipse cx="382" cy="769.6" rx="16" ry="8.32" stroke="#1c1c1c" stroke-width="1.1" fill="#fff"/>
<ellipse cx="382" cy="770.08" rx="12.8" ry="6.08" stroke="#1c1c1c" stroke-width="0.9" fill="#ddd"/>
<ellipse cx="382" cy="770.72" rx="10.56" ry="4.48" stroke="#1c1c1c" stroke-width="0.7" fill="#fff"/>
<path d="M 372.4 772 C 375.6 768.8 388.4 768.8 391.6 772" stroke="#666" stroke-width="0.6" fill="none" />
<path d="M 391.28 797.92 C 388.4 793.6 375.6 793.12 372.4 797.92 C 370 802.4 375.6 805.92 382 805.92 C 387.6 805.92 392.4 804 392.88 800.48 L 390.8 799.52 C 390 802.72 374 804.8 374.8 798.88 C 376.4 795.2 388.4 796 389.2 798.88 L 391.28 797.92 Z" stroke="#1c1c1c" stroke-width="0.9" fill="#fff" />
<path d="M 101.2 710.4 C 100.96 707.6 102.4 706 104.8 706.8 L 135.2 721.44 C 139.6 724 142 728 142.16 733.6 L 142.16 780 L 160 780" stroke="none" stroke-width="0" fill="none" />
<path d="M 101.2 711 C 101 707 103 705.8 105 706.6 L 134.6 721.2 C 139.5 724 142 728.5 142.1 733.5 L 142.1 819.2 C 142.1 820.6 141 821 139.8 820.3 L 116 808 C 113.6 806.6 112.8 805 112.8 802 L 112.8 781 C 112.8 772 109 765 104.5 761.8 L 101.2 760 Z" stroke="#1c1c1c" stroke-width="1.0" fill="#fff" />
<path d="M 102.6 709.2 L 134 724.6 C 138.4 727.2 140.5 730.5 140.6 735 L 140.6 818.6" stroke="#1c1c1c" stroke-width="0.7" fill="none" />
<path d="M 103.5 706.3 L 134.8 721.5 C 139.6 724.2 141.9 728.5 141.9 733.5 L 141.9 819" stroke="#1c1c1c" stroke-width="1.5" fill="none" />
<ellipse cx="106" cy="716.4" rx="2.2" ry="1.36" stroke="#1c1c1c" stroke-width="1.4" fill="none" transform="rotate(63.44 106 716.4)"/>
<ellipse cx="129.6" cy="734.25" rx="2.3" ry="1.03" stroke="#1c1c1c" stroke-width="1.4" fill="none" transform="rotate(63.44 129.6 734.25)"/>
<ellipse cx="129.6" cy="750.25" rx="2.3" ry="1.03" stroke="#1c1c1c" stroke-width="1.4" fill="none" transform="rotate(63.44 129.6 750.25)"/>
<ellipse cx="129.6" cy="780.85" rx="2.3" ry="1.03" stroke="#1c1c1c" stroke-width="1.4" fill="none" transform="rotate(63.44 129.6 780.85)"/>
<path d="M 123.5 758.2 C 123.4 756.4 124.4 755.8 126 756.6 L 134.4 760.8 C 135.8 761.6 136.4 762.6 136.4 764.2 L 136.4 774 C 136.4 775.8 135.4 776.4 134 775.6 L 125.8 771.4 C 124.2 770.6 123.6 769.4 123.6 768 Z" stroke="#1c1c1c" stroke-width="1.3" fill="none" />
<path d="M 124.6 758.6 L 124.6 768 C 124.8 769.4 125.4 770 126.4 770.6 L 134 774.4" stroke="#6a6a6a" stroke-width="0.6" fill="none" />
<line x1="119.2" y1="739.9" x2="128" y2="735.5" stroke="#1c1c1c" stroke-width="0.8" />
<line x1="119.2" y1="756" x2="128" y2="751.6" stroke="#1c1c1c" stroke-width="0.8" />
<ellipse cx="116.1" cy="741.4" rx="4.7" ry="3.1" stroke="#1c1c1c" stroke-width="0.9" fill="#fff" transform="rotate(63.44 116.1 741.4)"/>
<ellipse cx="115.4" cy="741.7" rx="4.4" ry="2.82" stroke="#1c1c1c" stroke-width="1.3" fill="#fff" transform="rotate(63.44 115.4 741.7)"/>
<ellipse cx="115.5" cy="741.7" rx="1.9" ry="1.14" stroke="#1c1c1c" stroke-width="0.9" fill="#fff" transform="rotate(63.44 115.5 741.7)"/>
<ellipse cx="116.1" cy="757.6" rx="4.7" ry="3.1" stroke="#1c1c1c" stroke-width="0.9" fill="#fff" transform="rotate(63.44 116.1 757.6)"/>
<ellipse cx="115.4" cy="757.9" rx="4.4" ry="2.82" stroke="#1c1c1c" stroke-width="1.3" fill="#fff" transform="rotate(63.44 115.4 757.9)"/>
<ellipse cx="115.5" cy="757.9" rx="1.9" ry="1.14" stroke="#1c1c1c" stroke-width="0.9" fill="#fff" transform="rotate(63.44 115.5 757.9)"/>
<path d="M 94.81 747.83 L 102.41 744.03 L 105.19 749.57 L 97.59 753.37 Z" stroke="#1c1c1c" stroke-width="0.9" fill="#fff" />
<ellipse cx="103.8" cy="746.8" rx="3.1" ry="1.98" stroke="#1c1c1c" stroke-width="0.9" fill="#fff" transform="rotate(63.44 103.8 746.8)"/>
<ellipse cx="102.4" cy="747.5" rx="4.3" ry="2.75" stroke="#1c1c1c" stroke-width="0.9" fill="#fff" transform="rotate(63.44 102.4 747.5)"/>
<ellipse cx="101.2" cy="748.1" rx="4.3" ry="2.75" stroke="#1c1c1c" stroke-width="1.0" fill="#fff" transform="rotate(63.44 101.2 748.1)"/>
<path d="M 99.81 745.33 L 94.81 747.83 M 102.59 750.87 L 97.59 753.37" stroke="#1c1c1c" stroke-width="0.9" fill="none" />
<path d="M 95.01 748.03 L 99.01 746.03 L 101.79 751.57 L 97.59 753.37 Z" stroke="none" stroke-width="0.001" fill="#fff" />
<ellipse cx="96.2" cy="750.6" rx="3.1" ry="1.98" stroke="#1c1c1c" stroke-width="0.9" fill="#fff" transform="rotate(63.44 96.2 750.6)"/>
<ellipse cx="96.2" cy="750.6" rx="1.5" ry="0.96" stroke="#1c1c1c" stroke-width="0.8" fill="#fff" transform="rotate(63.44 96.2 750.6)"/>
<line x1="105.2" y1="753.6" x2="107.2" y2="756.2" stroke="#1c1c1c" stroke-width="1.5" />
<line x1="104.8" y1="748" x2="112" y2="744.4" stroke="#1c1c1c" stroke-width="0.7" />
<path d="M 96.96 765.12 L 106.56 760.16 C 108 759.84 108.96 762 108.32 764 L 98.8 768.96 Z" stroke="#1c1c1c" stroke-width="0.9" fill="#fff" />
<path d="M 98.8 768.96 L 108.32 764" stroke="#1c1c1c" stroke-width="1.2" fill="none" />
<ellipse cx="107.52" cy="762.08" rx="0.96" ry="1.76" stroke="#1c1c1c" stroke-width="0.8" fill="#fff" transform="rotate(-25 107.52 762.08)"/>
<path d="M 89.6 768 C 90 766.4 92 764.96 94 765.2 L 96.4 765.76 C 98 767.2 98 770.4 96.4 772.4 L 94.4 773.44 C 92 774 89.2 772 89.6 768 Z" stroke="#1c1c1c" stroke-width="0.9" fill="#fff" />
<ellipse cx="93.2" cy="769.44" rx="3.04" ry="4.16" stroke="#1c1c1c" stroke-width="0.9" fill="#fff" transform="rotate(-18 93.2 769.44)"/>
<path d="M 91.2 766.8 L 93.76 765.6 M 90.4 770.4 L 92 772.96 M 95.84 768 L 95.6 771.6" stroke="#1c1c1c" stroke-width="0.7" fill="none" />
<line x1="109" y1="760.6" x2="112" y2="759.1" stroke="#555" stroke-width="0.7" />
<path d="M 146.44 722.17 L 152.04 719.37 C 154.8 719.77 156.76 723.43 155.16 725.63 L 149.56 728.43 Z" stroke="#1c1c1c" stroke-width="0.9" fill="#fff" />
<ellipse cx="148" cy="725.3" rx="3.5" ry="2.31" stroke="#1c1c1c" stroke-width="1.0" fill="#fff" transform="rotate(63.44 148 725.3)"/>
<ellipse cx="148" cy="725.3" rx="1.93" ry="1.27" stroke="#1c1c1c" stroke-width="0.8" fill="#fff" transform="rotate(63.44 148 725.3)"/>
<ellipse cx="158.7" cy="721.3" rx="2.7" ry="1.78" stroke="#444" stroke-width="1.2" fill="#fff" transform="rotate(63.44 158.7 721.3)"/>
<path d="M 37.5 825 L 113.2 787.15 L 113.2 790.95 L 37.5 828.8 Z" stroke="none" stroke-width="0" fill="#fff" />
<line x1="36.5" y1="825.3" x2="112.4" y2="787.05" stroke="#6a6a6a" stroke-width="0.6" />
<line x1="38.7" y1="828.5" x2="113.8" y2="790.35" stroke="#1c1c1c" stroke-width="1.5" />
<ellipse cx="113.2" cy="789.05" rx="1.9" ry="1.16" stroke="#1c1c1c" stroke-width="0.8" fill="#fff" transform="rotate(63.44 113.2 789.05)"/>
<ellipse cx="106.8" cy="792.25" rx="2" ry="1.22" stroke="#1c1c1c" stroke-width="1.0" fill="none" transform="rotate(63.44 106.8 792.25)"/>
<ellipse cx="105.6" cy="792.85" rx="2" ry="1.22" stroke="#1c1c1c" stroke-width="0.7" fill="none" transform="rotate(63.44 105.6 792.85)"/>
<ellipse cx="43.2" cy="824.05" rx="2" ry="1.22" stroke="#1c1c1c" stroke-width="1.0" fill="none" transform="rotate(63.44 43.2 824.05)"/>
<ellipse cx="41.8" cy="824.75" rx="2" ry="1.22" stroke="#1c1c1c" stroke-width="0.7" fill="none" transform="rotate(63.44 41.8 824.75)"/>
<ellipse cx="36.6" cy="827.35" rx="1.9" ry="1.16" stroke="#1c1c1c" stroke-width="0.9" fill="#fff" transform="rotate(63.44 36.6 827.35)"/>
<ellipse cx="35.4" cy="827.95" rx="1.9" ry="1.16" stroke="#1c1c1c" stroke-width="0.8" fill="#fff" transform="rotate(63.44 35.4 827.95)"/>
<line x1="33.5" y1="828.65" x2="26" y2="832.45" stroke="#555" stroke-width="0.6" />
<ellipse cx="31.6" cy="829.85" rx="4.3" ry="2.67" stroke="#1c1c1c" stroke-width="1.5" fill="#fff" transform="rotate(63.44 31.6 829.85)"/>
<ellipse cx="31.6" cy="829.85" rx="1.8" ry="1.12" stroke="#1c1c1c" stroke-width="0.8" fill="#fff" transform="rotate(63.44 31.6 829.85)"/>
<g transform="translate(19.4 835.95) rotate(180)">
<path d="M -5.2 -3 L 2 -6 C 3.6 -6.6 5 -6 5.6 -5 C 6.8 -3.6 7.2 -2.6 6.8 -1.8 C 6.8 -0.6 6.4 0.2 5.6 1 L 0.4 5 L -2.8 6 C -4.6 5.8 -5.6 5 -6 3.8 C -6.6 2.6 -6.8 1.4 -6.6 0.2 C -6.4 -1.2 -6 -2.2 -5.2 -3 Z" stroke="#1c1c1c" stroke-width="1.0" fill="#fff" />
<path d="M 0.4 -5.2 C 2.4 -3.8 3.6 -0.6 3.2 2.6 M 3.6 -5.8 C 5.6 -4.2 6.4 -1.4 5.6 0.8 M -2.4 -4.2 C -0.4 -2.4 0.4 1 -0.4 4.6 M -5 -2.6 L -2.4 -3.8 M -3.4 2.4 L -0.6 1.2" stroke="#1c1c1c" stroke-width="0.8" fill="none" />
</g>
<g style="mix-blend-mode:multiply">
<text x="42.5" y="700.75" font-size="19">11</text>
<text x="44.25" y="729" font-size="19">07</text>
<text x="49.25" y="777.5" font-size="19">02</text>
<text x="50.75" y="864.33" font-size="19">18</text>
<text x="90.12" y="845.95" font-size="19">19</text>
<text x="596" y="275" font-size="19">06</text>
<text x="634.5" y="355" font-size="19">01</text>
<text x="716" y="369.9" font-size="19">05</text>
<text x="828.55" y="335.8" font-size="19">09</text>
<text x="938.7" y="406.75" font-size="19">20</text>
<text x="931.9" y="432.35" font-size="19">19</text>
<text x="845.9" y="464.2" font-size="19">26</text>
<text x="920.2" y="305.6" font-size="19">24</text>
<text x="964.7" y="147" font-size="19">16</text>
<text x="920.7" y="258.9" font-size="19">03</text>
<text x="248.25" y="604" font-size="19">17</text>
<text x="308.38" y="592.5" font-size="19">08</text>
<text x="147.75" y="656.5" font-size="19">22</text>
<text x="110" y="682.5" font-size="19">10</text>
<text x="193.38" y="792" font-size="19">04</text>
<text x="237.62" y="781" font-size="19">15</text>
<text x="150.25" y="803.5" font-size="19">13</text>
<text x="270.12" y="802.5" font-size="19">21</text>
<text x="295.12" y="829.5" font-size="19">23</text>
<text x="333.25" y="733.5" font-size="19">32</text>
<text x="422.62" y="755.5" font-size="19">27</text>
<text x="422.5" y="679.5" font-size="19">28</text>
<text x="333.38" y="539" font-size="19">14</text>
<text x="421" y="474.5" font-size="19">25</text>
<text x="497.12" y="497" font-size="19">12</text>
<text x="616.38" y="627.5" font-size="19">31</text>
<text x="613.88" y="661.88" font-size="19">29</text>
<text x="613.25" y="709.5" font-size="19">30</text>
</g>
<path d="M 64 694.4 L 83.2 694.4 L 114.4 740" stroke="#666" stroke-width="0.9" fill="none"/>
<path d="M 66.5 722.4 L 79.2 722.4 L 97.6 747.2" stroke="#666" stroke-width="0.9" fill="none"/>
<path d="M 71 770.4 L 88.8 770.4" stroke="#666" stroke-width="0.9" fill="none"/>
<path d="M 60.6 816.5 L 60.6 848" stroke="#666" stroke-width="0.9" fill="none"/>
<path d="M 111.5 841.25 L 121.9 841.25 L 121.9 801.25" stroke="#666" stroke-width="0.9" fill="none"/>
<path d="M 606.6 277.5 L 606.6 310" stroke="#666" stroke-width="0.9" fill="none"/>
<path d="M 645.6 308 L 645.6 339" stroke="#666" stroke-width="0.9" fill="none"/>
<path d="M 726.4 297 L 726.4 353" stroke="#666" stroke-width="0.9" fill="none"/>
<path d="M 839.2 338 L 839.2 364" stroke="#666" stroke-width="0.9" fill="none"/>
<path d="M 949.3 364 L 949.3 391.2" stroke="#666" stroke-width="0.9" fill="none"/>
<path d="M 900 425.3 L 930.4 425.3" stroke="#666" stroke-width="0.9" fill="none"/>
<path d="M 867.5 457.6 L 880.5 457.6 L 880.5 420.8" stroke="#666" stroke-width="0.9" fill="none"/>
<path d="M 942.4 300.8 L 961.6 300.8" stroke="#666" stroke-width="0.9" fill="none"/>
<path d="M 974.1 148.5 L 974.1 198" stroke="#666" stroke-width="0.9" fill="none"/>
<path d="M 943.2 251.9 L 961.6 251.9" stroke="#666" stroke-width="0.9" fill="none"/>
<path d="M 268.75 595.5 L 280 595.5 L 280 648.75" stroke="#666" stroke-width="0.9" fill="none"/>
<path d="M 319.5 594.5 L 319.5 621.25" stroke="#666" stroke-width="0.9" fill="none"/>
<path d="M 158.75 658.5 L 158.75 716.25" stroke="#666" stroke-width="0.9" fill="none"/>
<path d="M 131 676.25 L 150 676.25 L 150 721" stroke="#666" stroke-width="0.9" fill="none"/>
<path d="M 204.5 744 L 204.5 777" stroke="#666" stroke-width="0.9" fill="none"/>
<path d="M 247.5 725 L 247.5 765.5" stroke="#666" stroke-width="0.9" fill="none"/>
<path d="M 171.25 797 L 183 797 L 183 762.5" stroke="#666" stroke-width="0.9" fill="none"/>
<path d="M 291.25 796.25 L 303.75 796.25 L 303.75 763.75" stroke="#666" stroke-width="0.9" fill="none"/>
<path d="M 316.25 822.5 L 327.5 822.5 L 327.5 777.5" stroke="#666" stroke-width="0.9" fill="none"/>
<path d="M 354.5 726.5 L 362 726.5 L 375.5 703.5" stroke="#666" stroke-width="0.9" fill="none"/>
<path d="M 421.25 749.2 L 408.5 749.2" stroke="#666" stroke-width="0.9" fill="none"/>
<path d="M 388 687.5 L 408.5 699 L 408.5 799 L 388.4 810.4" stroke="#666" stroke-width="0.9" fill="none"/>
<path d="M 423 673.6 L 408 673.6 L 396 651" stroke="#666" stroke-width="0.9" fill="none"/>
<path d="M 356.25 532 L 374.5 532 L 374.5 605" stroke="#666" stroke-width="0.9" fill="none"/>
<path d="M 443.75 467.5 L 460.75 467.5 L 460.75 516.25" stroke="#666" stroke-width="0.9" fill="none"/>
<path d="M 508.75 498.75 L 508.75 528.75" stroke="#666" stroke-width="0.9" fill="none"/>
<path d="M 614.8 621.6 L 604.2 621.6 L 589.5 600" stroke="#666" stroke-width="0.9" fill="none"/>
<path d="M 611.8 655.8 L 600.2 655.8 L 586.25 635" stroke="#666" stroke-width="0.9" fill="none"/>
<path d="M 609.4 704.4 L 598.4 704.4 L 583.75 682.5" stroke="#666" stroke-width="0.9" fill="none"/>
</svg>
</body></html>
